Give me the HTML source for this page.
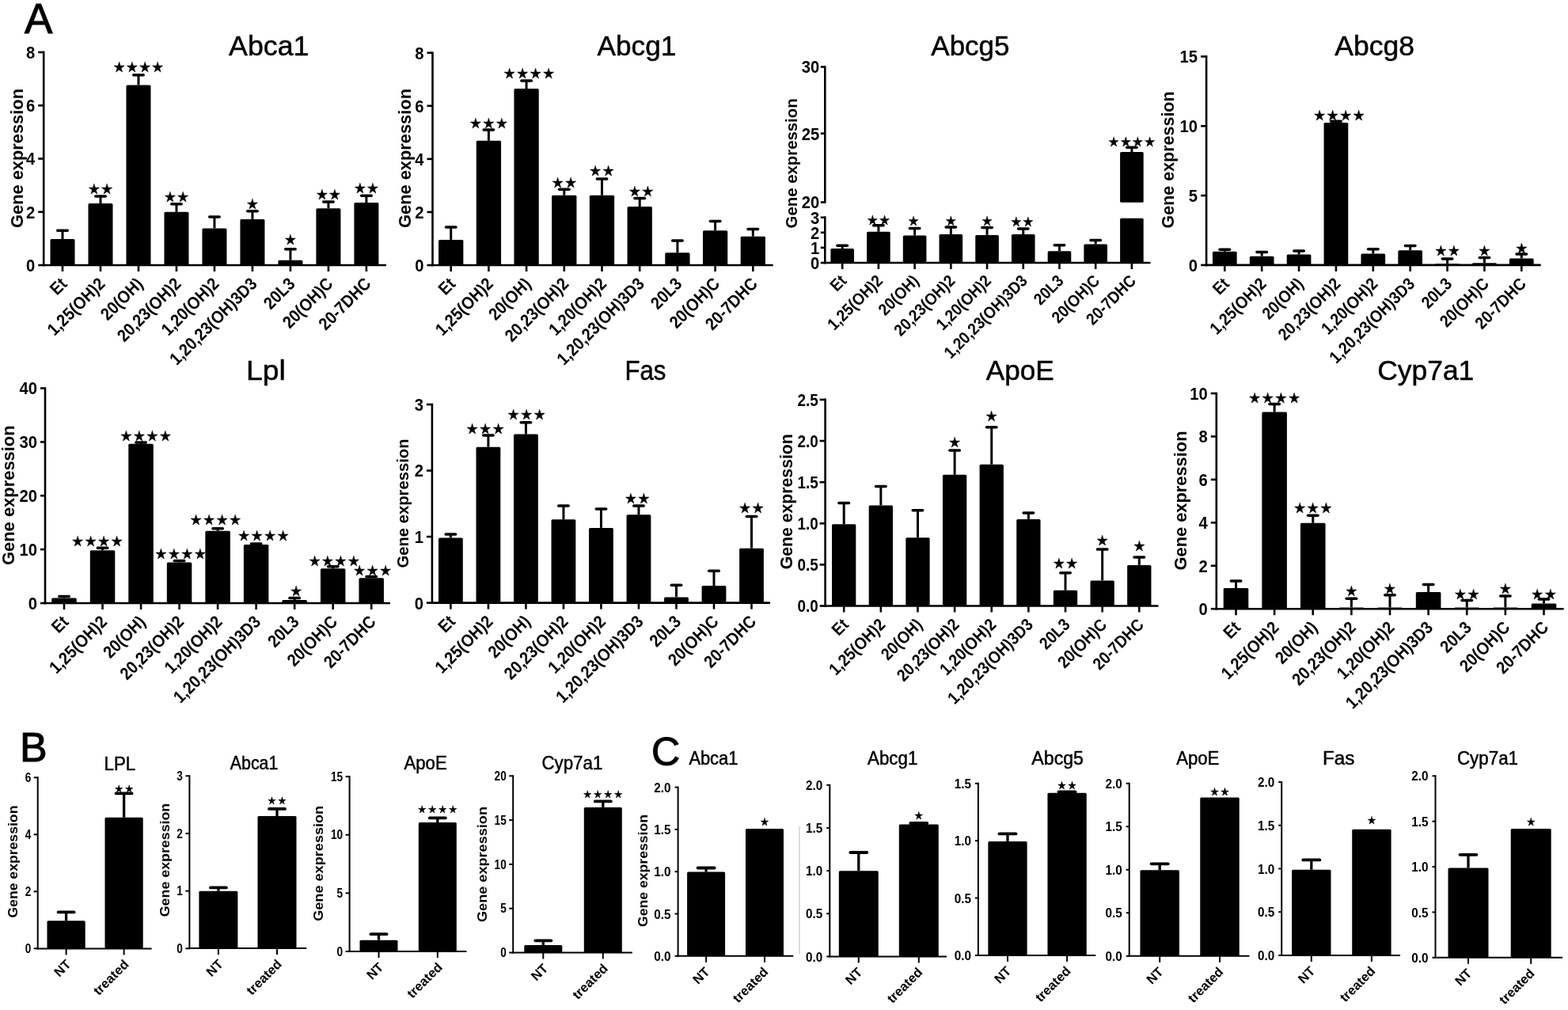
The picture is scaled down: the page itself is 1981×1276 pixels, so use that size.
<!DOCTYPE html>
<html><head><meta charset="utf-8"><style>
html,body{margin:0;padding:0;background:#fff;}
svg{display:block;}
.r{font-family:"Liberation Sans",sans-serif;stroke:#000;stroke-width:0.5px;}
.L{font-family:"Liberation Sans",sans-serif;stroke:#000;stroke-width:1.1px;}
.b{font-family:"Liberation Sans",sans-serif;font-weight:bold;}
.bn{font-family:"Liberation Sans",sans-serif;font-weight:bold;}
.s{font-family:"DejaVu Sans",sans-serif;stroke:#000;stroke-width:0.4px;stroke-linejoin:round;}
</style></head><body>
<svg width="1981" height="1276" viewBox="0 0 1981 1276">
<rect width="1981" height="1276" fill="#fff"/>
<text x="31" y="42.4" class="L" font-size="53">A</text>
<text x="25" y="961.6" class="L" font-size="52">B</text>
<text x="823" y="966.5" class="L" font-size="50">C</text>
<line x1="1010" y1="1044" x2="1010" y2="1205.5" stroke="#ddd" stroke-width="2"/>
<line x1="55.2" y1="64.7" x2="55.2" y2="336.3" stroke="#000" stroke-width="2.6"/>
<line x1="53.900000000000006" y1="335" x2="488" y2="335" stroke="#000" stroke-width="2.6"/>
<line x1="48.2" y1="335.0" x2="55.2" y2="335.0" stroke="#000" stroke-width="2.6"/>
<text x="0" y="0" transform="translate(44.20,342.92) scale(0.92,1)" text-anchor="end" class="b" font-size="22">0</text>
<line x1="48.2" y1="267.75" x2="55.2" y2="267.75" stroke="#000" stroke-width="2.6"/>
<text x="0" y="0" transform="translate(44.20,275.67) scale(0.92,1)" text-anchor="end" class="b" font-size="22">2</text>
<line x1="48.2" y1="200.5" x2="55.2" y2="200.5" stroke="#000" stroke-width="2.6"/>
<text x="0" y="0" transform="translate(44.20,208.42) scale(0.92,1)" text-anchor="end" class="b" font-size="22">4</text>
<line x1="48.2" y1="133.25" x2="55.2" y2="133.25" stroke="#000" stroke-width="2.6"/>
<text x="0" y="0" transform="translate(44.20,141.17) scale(0.92,1)" text-anchor="end" class="b" font-size="22">6</text>
<line x1="48.2" y1="66.0" x2="55.2" y2="66.0" stroke="#000" stroke-width="2.6"/>
<text x="0" y="0" transform="translate(44.20,73.92) scale(0.92,1)" text-anchor="end" class="b" font-size="22">8</text>
<line x1="79.0" y1="335" x2="79.0" y2="343" stroke="#000" stroke-width="2.6"/>
<line x1="79.0" y1="302.1" x2="79.0" y2="291.3" stroke="#000" stroke-width="3"/>
<line x1="72.75" y1="291.3" x2="85.25" y2="291.3" stroke="#000" stroke-width="3.5" stroke-linecap="round"/>
<rect x="63.5" y="302.1" width="31" height="32.89999999999998" rx="1.5"/>
<line x1="126.9875" y1="335" x2="126.9875" y2="343" stroke="#000" stroke-width="2.6"/>
<line x1="126.9875" y1="257" x2="126.9875" y2="248" stroke="#000" stroke-width="3"/>
<line x1="120.7375" y1="248" x2="133.2375" y2="248" stroke="#000" stroke-width="3.5" stroke-linecap="round"/>
<rect x="111.4875" y="257" width="31" height="78" rx="1.5"/>
<text x="111.25" y="0" transform="translate(0,238.60) scale(1,1.06) translate(0,6.10)" class="s" font-size="17.03" letter-spacing="0.93">★★</text>
<line x1="174.975" y1="335" x2="174.975" y2="343" stroke="#000" stroke-width="2.6"/>
<line x1="174.975" y1="107.4" x2="174.975" y2="94.8" stroke="#000" stroke-width="3"/>
<line x1="168.725" y1="94.8" x2="181.225" y2="94.8" stroke="#000" stroke-width="3.5" stroke-linecap="round"/>
<rect x="159.475" y="107.4" width="31" height="227.6" rx="1.5"/>
<text x="143.04" y="0" transform="translate(0,84.70) scale(1,1.06) translate(0,6.10)" class="s" font-size="17.03" letter-spacing="0.93">★★★★</text>
<line x1="222.96249999999998" y1="335" x2="222.96249999999998" y2="343" stroke="#000" stroke-width="2.6"/>
<line x1="222.96249999999998" y1="267.8" x2="222.96249999999998" y2="257.8" stroke="#000" stroke-width="3"/>
<line x1="216.71249999999998" y1="257.8" x2="229.21249999999998" y2="257.8" stroke="#000" stroke-width="3.5" stroke-linecap="round"/>
<rect x="207.46249999999998" y="267.8" width="31" height="67.19999999999999" rx="1.5"/>
<text x="207.23" y="0" transform="translate(0,248.70) scale(1,1.06) translate(0,6.10)" class="s" font-size="17.03" letter-spacing="0.93">★★</text>
<line x1="270.95" y1="335" x2="270.95" y2="343" stroke="#000" stroke-width="2.6"/>
<line x1="270.95" y1="288.4" x2="270.95" y2="274" stroke="#000" stroke-width="3"/>
<line x1="264.7" y1="274" x2="277.2" y2="274" stroke="#000" stroke-width="3.5" stroke-linecap="round"/>
<rect x="255.45" y="288.4" width="31" height="46.60000000000002" rx="1.5"/>
<line x1="318.9375" y1="335" x2="318.9375" y2="343" stroke="#000" stroke-width="2.6"/>
<line x1="318.9375" y1="276.9" x2="318.9375" y2="266.8" stroke="#000" stroke-width="3"/>
<line x1="312.6875" y1="266.8" x2="325.1875" y2="266.8" stroke="#000" stroke-width="3.5" stroke-linecap="round"/>
<rect x="303.4375" y="276.9" width="31" height="58.10000000000002" rx="1.5"/>
<text x="311.30" y="0" transform="translate(0,257.80) scale(1,1.06) translate(0,6.10)" class="s" font-size="17.03" letter-spacing="0.93">★</text>
<line x1="366.92499999999995" y1="335" x2="366.92499999999995" y2="343" stroke="#000" stroke-width="2.6"/>
<line x1="366.92499999999995" y1="328.8" x2="366.92499999999995" y2="314.7" stroke="#000" stroke-width="3"/>
<line x1="360.67499999999995" y1="314.7" x2="373.17499999999995" y2="314.7" stroke="#000" stroke-width="3.5" stroke-linecap="round"/>
<rect x="351.42499999999995" y="328.8" width="31" height="6.199999999999989" rx="1.5"/>
<text x="359.29" y="0" transform="translate(0,302.80) scale(1,1.06) translate(0,6.10)" class="s" font-size="17.03" letter-spacing="0.93">★</text>
<line x1="414.91249999999997" y1="335" x2="414.91249999999997" y2="343" stroke="#000" stroke-width="2.6"/>
<line x1="414.91249999999997" y1="263.2" x2="414.91249999999997" y2="254.9" stroke="#000" stroke-width="3"/>
<line x1="408.66249999999997" y1="254.9" x2="421.16249999999997" y2="254.9" stroke="#000" stroke-width="3.5" stroke-linecap="round"/>
<rect x="399.41249999999997" y="263.2" width="31" height="71.80000000000001" rx="1.5"/>
<text x="399.18" y="0" transform="translate(0,245.10) scale(1,1.06) translate(0,6.10)" class="s" font-size="17.03" letter-spacing="0.93">★★</text>
<line x1="462.9" y1="335" x2="462.9" y2="343" stroke="#000" stroke-width="2.6"/>
<line x1="462.9" y1="256" x2="462.9" y2="247.3" stroke="#000" stroke-width="3"/>
<line x1="456.65" y1="247.3" x2="469.15" y2="247.3" stroke="#000" stroke-width="3.5" stroke-linecap="round"/>
<rect x="447.4" y="256" width="31" height="79" rx="1.5"/>
<text x="447.17" y="0" transform="translate(0,237.20) scale(1,1.06) translate(0,6.10)" class="s" font-size="17.03" letter-spacing="0.93">★★</text>
<text x="0" y="0" transform="translate(86.00,360.00) rotate(-45) scale(0.9,1)" text-anchor="end" class="b" font-size="22">Et</text>
<text x="0" y="0" transform="translate(133.99,360.00) rotate(-45) scale(0.9,1)" text-anchor="end" class="b" font-size="22">1,25(OH)2</text>
<text x="0" y="0" transform="translate(181.97,360.00) rotate(-45) scale(0.9,1)" text-anchor="end" class="b" font-size="22">20(OH)</text>
<text x="0" y="0" transform="translate(229.96,360.00) rotate(-45) scale(0.9,1)" text-anchor="end" class="b" font-size="22">20,23(OH)2</text>
<text x="0" y="0" transform="translate(277.95,360.00) rotate(-45) scale(0.9,1)" text-anchor="end" class="b" font-size="22">1,20(OH)2</text>
<text x="0" y="0" transform="translate(325.94,360.00) rotate(-45) scale(0.9,1)" text-anchor="end" class="b" font-size="22">1,20,23(OH)3D3</text>
<text x="0" y="0" transform="translate(373.92,360.00) rotate(-45) scale(0.9,1)" text-anchor="end" class="b" font-size="22">20L3</text>
<text x="0" y="0" transform="translate(421.91,360.00) rotate(-45) scale(0.9,1)" text-anchor="end" class="b" font-size="22">20(OH)C</text>
<text x="0" y="0" transform="translate(469.90,360.00) rotate(-45) scale(0.9,1)" text-anchor="end" class="b" font-size="22">20-7DHC</text>
<text x="289.12" y="70" class="r" font-size="35" textLength="101.28" lengthAdjust="spacingAndGlyphs">Abca1</text>
<text x="0" y="0" transform="translate(29,200) rotate(-90)" text-anchor="middle" class="b" font-size="22" textLength="176" lengthAdjust="spacingAndGlyphs">Gene expression</text>
<line x1="546.5" y1="65.39999999999999" x2="546.5" y2="336.3" stroke="#000" stroke-width="2.6"/>
<line x1="545.2" y1="335" x2="976.7" y2="335" stroke="#000" stroke-width="2.6"/>
<line x1="539.5" y1="335.0" x2="546.5" y2="335.0" stroke="#000" stroke-width="2.6"/>
<text x="0" y="0" transform="translate(535.50,342.92) scale(0.92,1)" text-anchor="end" class="b" font-size="22">0</text>
<line x1="539.5" y1="267.925" x2="546.5" y2="267.925" stroke="#000" stroke-width="2.6"/>
<text x="0" y="0" transform="translate(535.50,275.85) scale(0.92,1)" text-anchor="end" class="b" font-size="22">2</text>
<line x1="539.5" y1="200.85" x2="546.5" y2="200.85" stroke="#000" stroke-width="2.6"/>
<text x="0" y="0" transform="translate(535.50,208.77) scale(0.92,1)" text-anchor="end" class="b" font-size="22">4</text>
<line x1="539.5" y1="133.77499999999998" x2="546.5" y2="133.77499999999998" stroke="#000" stroke-width="2.6"/>
<text x="0" y="0" transform="translate(535.50,141.69) scale(0.92,1)" text-anchor="end" class="b" font-size="22">6</text>
<line x1="539.5" y1="66.69999999999999" x2="546.5" y2="66.69999999999999" stroke="#000" stroke-width="2.6"/>
<text x="0" y="0" transform="translate(535.50,74.62) scale(0.92,1)" text-anchor="end" class="b" font-size="22">8</text>
<line x1="569.7" y1="335" x2="569.7" y2="343" stroke="#000" stroke-width="2.6"/>
<line x1="569.7" y1="302.9" x2="569.7" y2="287" stroke="#000" stroke-width="3"/>
<line x1="563.45" y1="287" x2="575.95" y2="287" stroke="#000" stroke-width="3.5" stroke-linecap="round"/>
<rect x="554.0500000000001" y="302.9" width="31.3" height="32.10000000000002" rx="1.5"/>
<line x1="617.4000000000001" y1="335" x2="617.4000000000001" y2="343" stroke="#000" stroke-width="2.6"/>
<line x1="617.4000000000001" y1="177.8" x2="617.4000000000001" y2="164" stroke="#000" stroke-width="3"/>
<line x1="611.1500000000001" y1="164" x2="623.6500000000001" y2="164" stroke="#000" stroke-width="3.5" stroke-linecap="round"/>
<rect x="601.7500000000001" y="177.8" width="31.3" height="157.2" rx="1.5"/>
<text x="593.27" y="0" transform="translate(0,155.10) scale(1,1.06) translate(0,6.10)" class="s" font-size="17.03" letter-spacing="1.23">★★★</text>
<line x1="665.1" y1="335" x2="665.1" y2="343" stroke="#000" stroke-width="2.6"/>
<line x1="665.1" y1="112.1" x2="665.1" y2="102.1" stroke="#000" stroke-width="3"/>
<line x1="658.85" y1="102.1" x2="671.35" y2="102.1" stroke="#000" stroke-width="3.5" stroke-linecap="round"/>
<rect x="649.45" y="112.1" width="31.3" height="222.9" rx="1.5"/>
<text x="636.12" y="0" transform="translate(0,92.40) scale(1,1.06) translate(0,6.10)" class="s" font-size="17.03" letter-spacing="1.23">★★★★</text>
<line x1="712.8" y1="335" x2="712.8" y2="343" stroke="#000" stroke-width="2.6"/>
<line x1="712.8" y1="246.7" x2="712.8" y2="239.3" stroke="#000" stroke-width="3"/>
<line x1="706.55" y1="239.3" x2="719.05" y2="239.3" stroke="#000" stroke-width="3.5" stroke-linecap="round"/>
<rect x="697.15" y="246.7" width="31.3" height="88.30000000000001" rx="1.5"/>
<text x="696.92" y="0" transform="translate(0,230.80) scale(1,1.06) translate(0,6.10)" class="s" font-size="17.03" letter-spacing="1.23">★★</text>
<line x1="760.5" y1="335" x2="760.5" y2="343" stroke="#000" stroke-width="2.6"/>
<line x1="760.5" y1="246.7" x2="760.5" y2="226" stroke="#000" stroke-width="3"/>
<line x1="754.25" y1="226" x2="766.75" y2="226" stroke="#000" stroke-width="3.5" stroke-linecap="round"/>
<rect x="744.85" y="246.7" width="31.3" height="88.30000000000001" rx="1.5"/>
<text x="744.62" y="0" transform="translate(0,216.00) scale(1,1.06) translate(0,6.10)" class="s" font-size="17.03" letter-spacing="1.23">★★</text>
<line x1="808.2" y1="335" x2="808.2" y2="343" stroke="#000" stroke-width="2.6"/>
<line x1="808.2" y1="261.1" x2="808.2" y2="250.5" stroke="#000" stroke-width="3"/>
<line x1="801.95" y1="250.5" x2="814.45" y2="250.5" stroke="#000" stroke-width="3.5" stroke-linecap="round"/>
<rect x="792.5500000000001" y="261.1" width="31.3" height="73.89999999999998" rx="1.5"/>
<text x="794.32" y="0" transform="translate(0,241.40) scale(1,1.06) translate(0,6.10)" class="s" font-size="17.03" letter-spacing="1.23">★★</text>
<line x1="855.9" y1="335" x2="855.9" y2="343" stroke="#000" stroke-width="2.6"/>
<line x1="855.9" y1="319.2" x2="855.9" y2="304" stroke="#000" stroke-width="3"/>
<line x1="849.65" y1="304" x2="862.15" y2="304" stroke="#000" stroke-width="3.5" stroke-linecap="round"/>
<rect x="840.25" y="319.2" width="31.3" height="15.800000000000011" rx="1.5"/>
<line x1="903.5999999999999" y1="335" x2="903.5999999999999" y2="343" stroke="#000" stroke-width="2.6"/>
<line x1="903.5999999999999" y1="291.2" x2="903.5999999999999" y2="279.6" stroke="#000" stroke-width="3"/>
<line x1="897.3499999999999" y1="279.6" x2="909.8499999999999" y2="279.6" stroke="#000" stroke-width="3.5" stroke-linecap="round"/>
<rect x="887.9499999999999" y="291.2" width="31.3" height="43.80000000000001" rx="1.5"/>
<line x1="951.3" y1="335" x2="951.3" y2="343" stroke="#000" stroke-width="2.6"/>
<line x1="951.3" y1="298.7" x2="951.3" y2="289.5" stroke="#000" stroke-width="3"/>
<line x1="945.05" y1="289.5" x2="957.55" y2="289.5" stroke="#000" stroke-width="3.5" stroke-linecap="round"/>
<rect x="935.65" y="298.7" width="31.3" height="36.30000000000001" rx="1.5"/>
<text x="0" y="0" transform="translate(576.70,360.00) rotate(-45) scale(0.9,1)" text-anchor="end" class="b" font-size="22">Et</text>
<text x="0" y="0" transform="translate(624.40,360.00) rotate(-45) scale(0.9,1)" text-anchor="end" class="b" font-size="22">1,25(OH)2</text>
<text x="0" y="0" transform="translate(672.10,360.00) rotate(-45) scale(0.9,1)" text-anchor="end" class="b" font-size="22">20(OH)</text>
<text x="0" y="0" transform="translate(719.80,360.00) rotate(-45) scale(0.9,1)" text-anchor="end" class="b" font-size="22">20,23(OH)2</text>
<text x="0" y="0" transform="translate(767.50,360.00) rotate(-45) scale(0.9,1)" text-anchor="end" class="b" font-size="22">1,20(OH)2</text>
<text x="0" y="0" transform="translate(815.20,360.00) rotate(-45) scale(0.9,1)" text-anchor="end" class="b" font-size="22">1,20,23(OH)3D3</text>
<text x="0" y="0" transform="translate(862.90,360.00) rotate(-45) scale(0.9,1)" text-anchor="end" class="b" font-size="22">20L3</text>
<text x="0" y="0" transform="translate(910.60,360.00) rotate(-45) scale(0.9,1)" text-anchor="end" class="b" font-size="22">20(OH)C</text>
<text x="0" y="0" transform="translate(958.30,360.00) rotate(-45) scale(0.9,1)" text-anchor="end" class="b" font-size="22">20-7DHC</text>
<text x="754.62" y="70" class="r" font-size="35" textLength="99.65" lengthAdjust="spacingAndGlyphs">Abcg1</text>
<text x="0" y="0" transform="translate(519,200) rotate(-90)" text-anchor="middle" class="b" font-size="22" textLength="176" lengthAdjust="spacingAndGlyphs">Gene expression</text>
<line x1="1042.3" y1="83.2" x2="1042.3" y2="256.8" stroke="#000" stroke-width="2.6"/>
<line x1="1042.3" y1="273.4" x2="1042.3" y2="333.3" stroke="#000" stroke-width="2.6"/>
<line x1="1041.0" y1="332" x2="1453.5" y2="332" stroke="#000" stroke-width="2.6"/>
<line x1="1036.8" y1="332" x2="1042.3" y2="332" stroke="#000" stroke-width="2.6"/>
<text x="0" y="0" transform="translate(1035.30,339.92) scale(0.92,1)" text-anchor="end" class="b" font-size="22">0</text>
<line x1="1036.8" y1="312.9" x2="1042.3" y2="312.9" stroke="#000" stroke-width="2.6"/>
<text x="0" y="0" transform="translate(1035.30,320.82) scale(0.92,1)" text-anchor="end" class="b" font-size="22">1</text>
<line x1="1036.8" y1="293.8" x2="1042.3" y2="293.8" stroke="#000" stroke-width="2.6"/>
<text x="0" y="0" transform="translate(1035.30,301.72) scale(0.92,1)" text-anchor="end" class="b" font-size="22">2</text>
<line x1="1036.8" y1="274.7" x2="1042.3" y2="274.7" stroke="#000" stroke-width="2.6"/>
<text x="0" y="0" transform="translate(1035.30,282.62) scale(0.92,1)" text-anchor="end" class="b" font-size="22">3</text>
<line x1="1036.8" y1="255.5" x2="1042.3" y2="255.5" stroke="#000" stroke-width="2.6"/>
<text x="0" y="0" transform="translate(1035.30,263.42) scale(0.92,1)" text-anchor="end" class="b" font-size="22">20</text>
<line x1="1036.8" y1="168.6" x2="1042.3" y2="168.6" stroke="#000" stroke-width="2.6"/>
<text x="0" y="0" transform="translate(1035.30,176.52) scale(0.92,1)" text-anchor="end" class="b" font-size="22">25</text>
<line x1="1036.8" y1="84.5" x2="1042.3" y2="84.5" stroke="#000" stroke-width="2.6"/>
<text x="0" y="0" transform="translate(1035.30,92.42) scale(0.92,1)" text-anchor="end" class="b" font-size="22">30</text>
<line x1="1064.2" y1="332" x2="1064.2" y2="340" stroke="#000" stroke-width="2.6"/>
<line x1="1064.2" y1="314" x2="1064.2" y2="310.2" stroke="#000" stroke-width="3"/>
<line x1="1057.95" y1="310.2" x2="1070.45" y2="310.2" stroke="#000" stroke-width="3.5" stroke-linecap="round"/>
<rect x="1049.4" y="314" width="29.6" height="18" rx="1.5"/>
<line x1="1109.9125000000001" y1="332" x2="1109.9125000000001" y2="340" stroke="#000" stroke-width="2.6"/>
<line x1="1109.9125000000001" y1="292.8" x2="1109.9125000000001" y2="284.8" stroke="#000" stroke-width="3"/>
<line x1="1103.6625000000001" y1="284.8" x2="1116.1625000000001" y2="284.8" stroke="#000" stroke-width="3.5" stroke-linecap="round"/>
<rect x="1095.1125000000002" y="292.8" width="29.6" height="39.19999999999999" rx="1.5"/>
<text x="1095.22" y="0" transform="translate(0,278.40) scale(1,1.06) translate(0,5.66)" class="s" font-size="15.81" letter-spacing="1.02">★★</text>
<line x1="1155.625" y1="332" x2="1155.625" y2="340" stroke="#000" stroke-width="2.6"/>
<line x1="1155.625" y1="297.5" x2="1155.625" y2="288.4" stroke="#000" stroke-width="3"/>
<line x1="1149.375" y1="288.4" x2="1161.875" y2="288.4" stroke="#000" stroke-width="3.5" stroke-linecap="round"/>
<rect x="1140.825" y="297.5" width="29.6" height="34.5" rx="1.5"/>
<text x="1147.04" y="0" transform="translate(0,279.50) scale(1,1.06) translate(0,5.66)" class="s" font-size="15.81" letter-spacing="1.02">★</text>
<line x1="1201.3375" y1="332" x2="1201.3375" y2="340" stroke="#000" stroke-width="2.6"/>
<line x1="1201.3375" y1="296" x2="1201.3375" y2="286.9" stroke="#000" stroke-width="3"/>
<line x1="1195.0875" y1="286.9" x2="1207.5875" y2="286.9" stroke="#000" stroke-width="3.5" stroke-linecap="round"/>
<rect x="1186.5375000000001" y="296" width="29.6" height="36" rx="1.5"/>
<text x="1194.25" y="0" transform="translate(0,279.50) scale(1,1.06) translate(0,5.66)" class="s" font-size="15.81" letter-spacing="1.02">★</text>
<line x1="1247.0500000000002" y1="332" x2="1247.0500000000002" y2="340" stroke="#000" stroke-width="2.6"/>
<line x1="1247.0500000000002" y1="296.9" x2="1247.0500000000002" y2="287.5" stroke="#000" stroke-width="3"/>
<line x1="1240.8000000000002" y1="287.5" x2="1253.3000000000002" y2="287.5" stroke="#000" stroke-width="3.5" stroke-linecap="round"/>
<rect x="1232.2500000000002" y="296.9" width="29.6" height="35.10000000000002" rx="1.5"/>
<text x="1239.96" y="0" transform="translate(0,279.50) scale(1,1.06) translate(0,5.66)" class="s" font-size="15.81" letter-spacing="1.02">★</text>
<line x1="1292.7625" y1="332" x2="1292.7625" y2="340" stroke="#000" stroke-width="2.6"/>
<line x1="1292.7625" y1="296" x2="1292.7625" y2="289" stroke="#000" stroke-width="3"/>
<line x1="1286.5125" y1="289" x2="1299.0125" y2="289" stroke="#000" stroke-width="3.5" stroke-linecap="round"/>
<rect x="1277.9625" y="296" width="29.6" height="36" rx="1.5"/>
<text x="1276.67" y="0" transform="translate(0,280.50) scale(1,1.06) translate(0,5.66)" class="s" font-size="15.81" letter-spacing="1.02">★★</text>
<line x1="1338.4750000000001" y1="332" x2="1338.4750000000001" y2="340" stroke="#000" stroke-width="2.6"/>
<line x1="1338.4750000000001" y1="317.2" x2="1338.4750000000001" y2="309.8" stroke="#000" stroke-width="3"/>
<line x1="1332.2250000000001" y1="309.8" x2="1344.7250000000001" y2="309.8" stroke="#000" stroke-width="3.5" stroke-linecap="round"/>
<rect x="1323.6750000000002" y="317.2" width="29.6" height="14.800000000000011" rx="1.5"/>
<line x1="1384.1875" y1="332" x2="1384.1875" y2="340" stroke="#000" stroke-width="2.6"/>
<line x1="1384.1875" y1="308.5" x2="1384.1875" y2="303.4" stroke="#000" stroke-width="3"/>
<line x1="1377.9375" y1="303.4" x2="1390.4375" y2="303.4" stroke="#000" stroke-width="3.5" stroke-linecap="round"/>
<rect x="1369.3875" y="308.5" width="29.6" height="23.5" rx="1.5"/>
<line x1="1429.9" y1="332" x2="1429.9" y2="340" stroke="#000" stroke-width="2.6"/>
<line x1="1429.9" y1="192.1" x2="1429.9" y2="186.2" stroke="#000" stroke-width="3"/>
<line x1="1423.65" y1="186.2" x2="1436.15" y2="186.2" stroke="#000" stroke-width="3.5" stroke-linecap="round"/>
<rect x="1415.1000000000001" y="192.1" width="29.6" height="63.599999999999994" rx="1.5"/>
<rect x="1415.1000000000001" y="275.7" width="29.6" height="56.30000000000001" rx="1.5"/>
<text x="1400.01" y="0" transform="translate(0,178.80) scale(1,1.06) translate(0,5.66)" class="s" font-size="15.81" letter-spacing="1.02">★★★★</text>
<text x="0" y="0" transform="translate(1070.70,356.00) rotate(-45) scale(0.9,1)" text-anchor="end" class="b" font-size="21">Et</text>
<text x="0" y="0" transform="translate(1116.41,356.00) rotate(-45) scale(0.9,1)" text-anchor="end" class="b" font-size="21">1,25(OH)2</text>
<text x="0" y="0" transform="translate(1162.12,356.00) rotate(-45) scale(0.9,1)" text-anchor="end" class="b" font-size="21">20(OH)</text>
<text x="0" y="0" transform="translate(1207.84,356.00) rotate(-45) scale(0.9,1)" text-anchor="end" class="b" font-size="21">20,23(OH)2</text>
<text x="0" y="0" transform="translate(1253.55,356.00) rotate(-45) scale(0.9,1)" text-anchor="end" class="b" font-size="21">1,20(OH)2</text>
<text x="0" y="0" transform="translate(1299.26,356.00) rotate(-45) scale(0.9,1)" text-anchor="end" class="b" font-size="21">1,20,23(OH)3D3</text>
<text x="0" y="0" transform="translate(1344.98,356.00) rotate(-45) scale(0.9,1)" text-anchor="end" class="b" font-size="21">20L3</text>
<text x="0" y="0" transform="translate(1390.69,356.00) rotate(-45) scale(0.9,1)" text-anchor="end" class="b" font-size="21">20(OH)C</text>
<text x="0" y="0" transform="translate(1436.40,356.00) rotate(-45) scale(0.9,1)" text-anchor="end" class="b" font-size="21">20-7DHC</text>
<text x="1176.33" y="70" class="r" font-size="35" textLength="99.09" lengthAdjust="spacingAndGlyphs">Abcg5</text>
<text x="0" y="0" transform="translate(1007,206.4) rotate(-90)" text-anchor="middle" class="b" font-size="21" textLength="164" lengthAdjust="spacingAndGlyphs">Gene expression</text>
<line x1="1524.1" y1="70.09999999999998" x2="1524.1" y2="336.2" stroke="#000" stroke-width="2.6"/>
<line x1="1522.8" y1="334.9" x2="1946.7" y2="334.9" stroke="#000" stroke-width="2.6"/>
<line x1="1517.1" y1="334.9" x2="1524.1" y2="334.9" stroke="#000" stroke-width="2.6"/>
<text x="0" y="0" transform="translate(1513.10,342.82) scale(0.92,1)" text-anchor="end" class="b" font-size="22">0</text>
<line x1="1517.1" y1="247.06666666666666" x2="1524.1" y2="247.06666666666666" stroke="#000" stroke-width="2.6"/>
<text x="0" y="0" transform="translate(1513.10,254.99) scale(0.92,1)" text-anchor="end" class="b" font-size="22">5</text>
<line x1="1517.1" y1="159.23333333333332" x2="1524.1" y2="159.23333333333332" stroke="#000" stroke-width="2.6"/>
<text x="0" y="0" transform="translate(1513.10,167.15) scale(0.92,1)" text-anchor="end" class="b" font-size="22">10</text>
<line x1="1517.1" y1="71.39999999999998" x2="1524.1" y2="71.39999999999998" stroke="#000" stroke-width="2.6"/>
<text x="0" y="0" transform="translate(1513.10,79.32) scale(0.92,1)" text-anchor="end" class="b" font-size="22">15</text>
<line x1="1547.3" y1="334.9" x2="1547.3" y2="342.9" stroke="#000" stroke-width="2.6"/>
<line x1="1547.3" y1="317.7" x2="1547.3" y2="315.2" stroke="#000" stroke-width="3"/>
<line x1="1541.05" y1="315.2" x2="1553.55" y2="315.2" stroke="#000" stroke-width="3.5" stroke-linecap="round"/>
<rect x="1531.95" y="317.7" width="30.7" height="17.19999999999999" rx="1.5"/>
<line x1="1594.175" y1="334.9" x2="1594.175" y2="342.9" stroke="#000" stroke-width="2.6"/>
<line x1="1594.175" y1="323.7" x2="1594.175" y2="318.4" stroke="#000" stroke-width="3"/>
<line x1="1587.925" y1="318.4" x2="1600.425" y2="318.4" stroke="#000" stroke-width="3.5" stroke-linecap="round"/>
<rect x="1578.825" y="323.7" width="30.7" height="11.199999999999989" rx="1.5"/>
<line x1="1641.05" y1="334.9" x2="1641.05" y2="342.9" stroke="#000" stroke-width="2.6"/>
<line x1="1641.05" y1="321.6" x2="1641.05" y2="316.9" stroke="#000" stroke-width="3"/>
<line x1="1634.8" y1="316.9" x2="1647.3" y2="316.9" stroke="#000" stroke-width="3.5" stroke-linecap="round"/>
<rect x="1625.7" y="321.6" width="30.7" height="13.299999999999955" rx="1.5"/>
<line x1="1687.925" y1="334.9" x2="1687.925" y2="342.9" stroke="#000" stroke-width="2.6"/>
<line x1="1687.925" y1="155" x2="1687.925" y2="153.2" stroke="#000" stroke-width="3"/>
<line x1="1681.675" y1="153.2" x2="1694.175" y2="153.2" stroke="#000" stroke-width="3.5" stroke-linecap="round"/>
<rect x="1672.575" y="155" width="30.7" height="179.89999999999998" rx="1.5"/>
<text x="1659.54" y="0" transform="translate(0,145.60) scale(1,1.06) translate(0,6.10)" class="s" font-size="17.03" letter-spacing="1.23">★★★★</text>
<line x1="1734.8" y1="334.9" x2="1734.8" y2="342.9" stroke="#000" stroke-width="2.6"/>
<line x1="1734.8" y1="320.5" x2="1734.8" y2="314.8" stroke="#000" stroke-width="3"/>
<line x1="1728.55" y1="314.8" x2="1741.05" y2="314.8" stroke="#000" stroke-width="3.5" stroke-linecap="round"/>
<rect x="1719.45" y="320.5" width="30.7" height="14.399999999999977" rx="1.5"/>
<line x1="1781.675" y1="334.9" x2="1781.675" y2="342.9" stroke="#000" stroke-width="2.6"/>
<line x1="1781.675" y1="316.3" x2="1781.675" y2="310.5" stroke="#000" stroke-width="3"/>
<line x1="1775.425" y1="310.5" x2="1787.925" y2="310.5" stroke="#000" stroke-width="3.5" stroke-linecap="round"/>
<rect x="1766.325" y="316.3" width="30.7" height="18.599999999999966" rx="1.5"/>
<line x1="1828.55" y1="334.9" x2="1828.55" y2="342.9" stroke="#000" stroke-width="2.6"/>
<line x1="1828.55" y1="333.2" x2="1828.55" y2="326.9" stroke="#000" stroke-width="3"/>
<line x1="1822.3" y1="326.9" x2="1834.8" y2="326.9" stroke="#000" stroke-width="3.5" stroke-linecap="round"/>
<rect x="1813.2" y="333.2" width="30.7" height="1.6999999999999886" rx="1.5"/>
<text x="1812.67" y="0" transform="translate(0,316.90) scale(1,1.06) translate(0,6.10)" class="s" font-size="17.03" letter-spacing="1.23">★★</text>
<line x1="1875.425" y1="334.9" x2="1875.425" y2="342.9" stroke="#000" stroke-width="2.6"/>
<line x1="1875.425" y1="332.2" x2="1875.425" y2="325.4" stroke="#000" stroke-width="3"/>
<line x1="1869.175" y1="325.4" x2="1881.675" y2="325.4" stroke="#000" stroke-width="3.5" stroke-linecap="round"/>
<rect x="1860.075" y="332.2" width="30.7" height="2.6999999999999886" rx="1.5"/>
<text x="1867.79" y="0" transform="translate(0,316.30) scale(1,1.06) translate(0,6.10)" class="s" font-size="17.03" letter-spacing="1.23">★</text>
<line x1="1922.3" y1="334.9" x2="1922.3" y2="342.9" stroke="#000" stroke-width="2.6"/>
<line x1="1922.3" y1="326.4" x2="1922.3" y2="321.1" stroke="#000" stroke-width="3"/>
<line x1="1916.05" y1="321.1" x2="1928.55" y2="321.1" stroke="#000" stroke-width="3.5" stroke-linecap="round"/>
<rect x="1906.95" y="326.4" width="30.7" height="8.5" rx="1.5"/>
<text x="1914.67" y="0" transform="translate(0,313.10) scale(1,1.06) translate(0,6.10)" class="s" font-size="17.03" letter-spacing="1.23">★</text>
<text x="0" y="0" transform="translate(1554.30,359.90) rotate(-45) scale(0.9,1)" text-anchor="end" class="b" font-size="21.5">Et</text>
<text x="0" y="0" transform="translate(1601.17,359.90) rotate(-45) scale(0.9,1)" text-anchor="end" class="b" font-size="21.5">1,25(OH)2</text>
<text x="0" y="0" transform="translate(1648.05,359.90) rotate(-45) scale(0.9,1)" text-anchor="end" class="b" font-size="21.5">20(OH)</text>
<text x="0" y="0" transform="translate(1694.92,359.90) rotate(-45) scale(0.9,1)" text-anchor="end" class="b" font-size="21.5">20,23(OH)2</text>
<text x="0" y="0" transform="translate(1741.80,359.90) rotate(-45) scale(0.9,1)" text-anchor="end" class="b" font-size="21.5">1,20(OH)2</text>
<text x="0" y="0" transform="translate(1788.67,359.90) rotate(-45) scale(0.9,1)" text-anchor="end" class="b" font-size="21.5">1,20,23(OH)3D3</text>
<text x="0" y="0" transform="translate(1835.55,359.90) rotate(-45) scale(0.9,1)" text-anchor="end" class="b" font-size="21.5">20L3</text>
<text x="0" y="0" transform="translate(1882.42,359.90) rotate(-45) scale(0.9,1)" text-anchor="end" class="b" font-size="21.5">20(OH)C</text>
<text x="0" y="0" transform="translate(1929.30,359.90) rotate(-45) scale(0.9,1)" text-anchor="end" class="b" font-size="21.5">20-7DHC</text>
<text x="1686.22" y="70" class="r" font-size="35" textLength="100.72" lengthAdjust="spacingAndGlyphs">Abcg8</text>
<text x="0" y="0" transform="translate(1483,201.9) rotate(-90)" text-anchor="middle" class="b" font-size="22" textLength="173" lengthAdjust="spacingAndGlyphs">Gene expression</text>
<line x1="57" y1="489.2" x2="57" y2="763.3" stroke="#000" stroke-width="2.6"/>
<line x1="55.7" y1="762" x2="493" y2="762" stroke="#000" stroke-width="2.6"/>
<line x1="51" y1="762.0" x2="57" y2="762.0" stroke="#000" stroke-width="2.6"/>
<text x="0" y="0" transform="translate(47.00,769.92) scale(0.92,1)" text-anchor="end" class="b" font-size="22">0</text>
<line x1="51" y1="694.125" x2="57" y2="694.125" stroke="#000" stroke-width="2.6"/>
<text x="0" y="0" transform="translate(47.00,702.04) scale(0.92,1)" text-anchor="end" class="b" font-size="22">10</text>
<line x1="51" y1="626.25" x2="57" y2="626.25" stroke="#000" stroke-width="2.6"/>
<text x="0" y="0" transform="translate(47.00,634.17) scale(0.92,1)" text-anchor="end" class="b" font-size="22">20</text>
<line x1="51" y1="558.375" x2="57" y2="558.375" stroke="#000" stroke-width="2.6"/>
<text x="0" y="0" transform="translate(47.00,566.29) scale(0.92,1)" text-anchor="end" class="b" font-size="22">30</text>
<line x1="51" y1="490.5" x2="57" y2="490.5" stroke="#000" stroke-width="2.6"/>
<text x="0" y="0" transform="translate(47.00,498.42) scale(0.92,1)" text-anchor="end" class="b" font-size="22">40</text>
<line x1="81.0" y1="762" x2="81.0" y2="770" stroke="#000" stroke-width="2.6"/>
<line x1="81.0" y1="755.4" x2="81.0" y2="753.6" stroke="#000" stroke-width="3"/>
<line x1="74.75" y1="753.6" x2="87.25" y2="753.6" stroke="#000" stroke-width="3.5" stroke-linecap="round"/>
<rect x="65.25" y="755.4" width="31.5" height="6.600000000000023" rx="1.5"/>
<line x1="129.525" y1="762" x2="129.525" y2="770" stroke="#000" stroke-width="2.6"/>
<line x1="129.525" y1="695.2" x2="129.525" y2="692.3" stroke="#000" stroke-width="3"/>
<line x1="123.275" y1="692.3" x2="135.775" y2="692.3" stroke="#000" stroke-width="3.5" stroke-linecap="round"/>
<rect x="113.775" y="695.2" width="31.5" height="66.79999999999995" rx="1.5"/>
<text x="90.44" y="0" transform="translate(0,683.70) scale(1,1.06) translate(0,6.10)" class="s" font-size="17.03" letter-spacing="1.23">★★★★</text>
<line x1="178.05" y1="762" x2="178.05" y2="770" stroke="#000" stroke-width="2.6"/>
<line x1="178.05" y1="560.8" x2="178.05" y2="559" stroke="#000" stroke-width="3"/>
<line x1="171.8" y1="559" x2="184.3" y2="559" stroke="#000" stroke-width="3.5" stroke-linecap="round"/>
<rect x="162.3" y="560.8" width="31.5" height="201.20000000000005" rx="1.5"/>
<text x="151.87" y="0" transform="translate(0,550.10) scale(1,1.06) translate(0,6.10)" class="s" font-size="17.03" letter-spacing="1.23">★★★★</text>
<line x1="226.575" y1="762" x2="226.575" y2="770" stroke="#000" stroke-width="2.6"/>
<line x1="226.575" y1="710.4" x2="226.575" y2="708.6" stroke="#000" stroke-width="3"/>
<line x1="220.325" y1="708.6" x2="232.825" y2="708.6" stroke="#000" stroke-width="3.5" stroke-linecap="round"/>
<rect x="210.825" y="710.4" width="31.5" height="51.60000000000002" rx="1.5"/>
<text x="195.79" y="0" transform="translate(0,699.20) scale(1,1.06) translate(0,6.10)" class="s" font-size="17.03" letter-spacing="1.23">★★★★</text>
<line x1="275.1" y1="762" x2="275.1" y2="770" stroke="#000" stroke-width="2.6"/>
<line x1="275.1" y1="670.7" x2="275.1" y2="667.8" stroke="#000" stroke-width="3"/>
<line x1="268.85" y1="667.8" x2="281.35" y2="667.8" stroke="#000" stroke-width="3.5" stroke-linecap="round"/>
<rect x="259.35" y="670.7" width="31.5" height="91.29999999999995" rx="1.5"/>
<text x="240.12" y="0" transform="translate(0,656.80) scale(1,1.06) translate(0,6.10)" class="s" font-size="17.03" letter-spacing="1.23">★★★★</text>
<line x1="323.625" y1="762" x2="323.625" y2="770" stroke="#000" stroke-width="2.6"/>
<line x1="323.625" y1="688" x2="323.625" y2="687" stroke="#000" stroke-width="3"/>
<line x1="317.375" y1="687" x2="329.875" y2="687" stroke="#000" stroke-width="3.5" stroke-linecap="round"/>
<rect x="307.875" y="688" width="31.5" height="74" rx="1.5"/>
<text x="300.54" y="0" transform="translate(0,676.30) scale(1,1.06) translate(0,6.10)" class="s" font-size="17.03" letter-spacing="1.23">★★★★</text>
<line x1="372.15" y1="762" x2="372.15" y2="770" stroke="#000" stroke-width="2.6"/>
<line x1="372.15" y1="758" x2="372.15" y2="755.4" stroke="#000" stroke-width="3"/>
<line x1="365.9" y1="755.4" x2="378.4" y2="755.4" stroke="#000" stroke-width="3.5" stroke-linecap="round"/>
<rect x="356.4" y="758" width="31.5" height="4" rx="1.5"/>
<text x="366.52" y="0" transform="translate(0,746.70) scale(1,1.06) translate(0,6.10)" class="s" font-size="17.03" letter-spacing="1.23">★</text>
<line x1="420.675" y1="762" x2="420.675" y2="770" stroke="#000" stroke-width="2.6"/>
<line x1="420.675" y1="718.3" x2="420.675" y2="715.8" stroke="#000" stroke-width="3"/>
<line x1="414.425" y1="715.8" x2="426.925" y2="715.8" stroke="#000" stroke-width="3.5" stroke-linecap="round"/>
<rect x="404.925" y="718.3" width="31.5" height="43.700000000000045" rx="1.5"/>
<text x="389.89" y="0" transform="translate(0,708.10) scale(1,1.06) translate(0,6.10)" class="s" font-size="17.03" letter-spacing="1.23">★★★★</text>
<line x1="469.2" y1="762" x2="469.2" y2="770" stroke="#000" stroke-width="2.6"/>
<line x1="469.2" y1="730.2" x2="469.2" y2="728.4" stroke="#000" stroke-width="3"/>
<line x1="462.95" y1="728.4" x2="475.45" y2="728.4" stroke="#000" stroke-width="3.5" stroke-linecap="round"/>
<rect x="453.45" y="730.2" width="31.5" height="31.799999999999955" rx="1.5"/>
<text x="446.47" y="0" transform="translate(0,720.40) scale(1,1.06) translate(0,6.10)" class="s" font-size="17.03" letter-spacing="1.23">★★★</text>
<text x="0" y="0" transform="translate(88.00,787.00) rotate(-45) scale(0.9,1)" text-anchor="end" class="b" font-size="22">Et</text>
<text x="0" y="0" transform="translate(136.53,787.00) rotate(-45) scale(0.9,1)" text-anchor="end" class="b" font-size="22">1,25(OH)2</text>
<text x="0" y="0" transform="translate(185.05,787.00) rotate(-45) scale(0.9,1)" text-anchor="end" class="b" font-size="22">20(OH)</text>
<text x="0" y="0" transform="translate(233.57,787.00) rotate(-45) scale(0.9,1)" text-anchor="end" class="b" font-size="22">20,23(OH)2</text>
<text x="0" y="0" transform="translate(282.10,787.00) rotate(-45) scale(0.9,1)" text-anchor="end" class="b" font-size="22">1,20(OH)2</text>
<text x="0" y="0" transform="translate(330.62,787.00) rotate(-45) scale(0.9,1)" text-anchor="end" class="b" font-size="22">1,20,23(OH)3D3</text>
<text x="0" y="0" transform="translate(379.15,787.00) rotate(-45) scale(0.9,1)" text-anchor="end" class="b" font-size="22">20L3</text>
<text x="0" y="0" transform="translate(427.68,787.00) rotate(-45) scale(0.9,1)" text-anchor="end" class="b" font-size="22">20(OH)C</text>
<text x="0" y="0" transform="translate(476.20,787.00) rotate(-45) scale(0.9,1)" text-anchor="end" class="b" font-size="22">20-7DHC</text>
<text x="311.12" y="480.3" class="r" font-size="35" textLength="49.78" lengthAdjust="spacingAndGlyphs">Lpl</text>
<text x="0" y="0" transform="translate(18.2,625.7) rotate(-90)" text-anchor="middle" class="b" font-size="22" textLength="176.7" lengthAdjust="spacingAndGlyphs">Gene expression</text>
<line x1="545.9" y1="509.7" x2="545.9" y2="762.9" stroke="#000" stroke-width="2.6"/>
<line x1="544.6" y1="761.6" x2="973" y2="761.6" stroke="#000" stroke-width="2.6"/>
<line x1="538.9" y1="761.6" x2="545.9" y2="761.6" stroke="#000" stroke-width="2.6"/>
<text x="0" y="0" transform="translate(534.90,769.52) scale(0.92,1)" text-anchor="end" class="b" font-size="22">0</text>
<line x1="538.9" y1="678.0666666666667" x2="545.9" y2="678.0666666666667" stroke="#000" stroke-width="2.6"/>
<text x="0" y="0" transform="translate(534.90,685.99) scale(0.92,1)" text-anchor="end" class="b" font-size="22">1</text>
<line x1="538.9" y1="594.5333333333333" x2="545.9" y2="594.5333333333333" stroke="#000" stroke-width="2.6"/>
<text x="0" y="0" transform="translate(534.90,602.45) scale(0.92,1)" text-anchor="end" class="b" font-size="22">2</text>
<line x1="538.9" y1="511.0" x2="545.9" y2="511.0" stroke="#000" stroke-width="2.6"/>
<text x="0" y="0" transform="translate(534.90,518.92) scale(0.92,1)" text-anchor="end" class="b" font-size="22">3</text>
<line x1="569.4" y1="761.6" x2="569.4" y2="769.6" stroke="#000" stroke-width="2.6"/>
<line x1="569.4" y1="679.6" x2="569.4" y2="675" stroke="#000" stroke-width="3"/>
<line x1="563.15" y1="675" x2="575.65" y2="675" stroke="#000" stroke-width="3.5" stroke-linecap="round"/>
<rect x="554.0" y="679.6" width="30.8" height="82.0" rx="1.5"/>
<line x1="616.9125" y1="761.6" x2="616.9125" y2="769.6" stroke="#000" stroke-width="2.6"/>
<line x1="616.9125" y1="564.7" x2="616.9125" y2="549.9" stroke="#000" stroke-width="3"/>
<line x1="610.6625" y1="549.9" x2="623.1625" y2="549.9" stroke="#000" stroke-width="3.5" stroke-linecap="round"/>
<rect x="601.5125" y="564.7" width="30.8" height="196.89999999999998" rx="1.5"/>
<text x="588.98" y="0" transform="translate(0,541.40) scale(1,1.06) translate(0,6.10)" class="s" font-size="17.03" letter-spacing="1.23">★★★</text>
<line x1="664.425" y1="761.6" x2="664.425" y2="769.6" stroke="#000" stroke-width="2.6"/>
<line x1="664.425" y1="548.6" x2="664.425" y2="533.7" stroke="#000" stroke-width="3"/>
<line x1="658.175" y1="533.7" x2="670.675" y2="533.7" stroke="#000" stroke-width="3.5" stroke-linecap="round"/>
<rect x="649.025" y="548.6" width="30.8" height="213.0" rx="1.5"/>
<text x="641.09" y="0" transform="translate(0,523.80) scale(1,1.06) translate(0,6.10)" class="s" font-size="17.03" letter-spacing="1.23">★★★</text>
<line x1="711.9375" y1="761.6" x2="711.9375" y2="769.6" stroke="#000" stroke-width="2.6"/>
<line x1="711.9375" y1="656.3" x2="711.9375" y2="638.9" stroke="#000" stroke-width="3"/>
<line x1="705.6875" y1="638.9" x2="718.1875" y2="638.9" stroke="#000" stroke-width="3.5" stroke-linecap="round"/>
<rect x="696.5375" y="656.3" width="30.8" height="105.30000000000007" rx="1.5"/>
<line x1="759.45" y1="761.6" x2="759.45" y2="769.6" stroke="#000" stroke-width="2.6"/>
<line x1="759.45" y1="666.9" x2="759.45" y2="642.9" stroke="#000" stroke-width="3"/>
<line x1="753.2" y1="642.9" x2="765.7" y2="642.9" stroke="#000" stroke-width="3.5" stroke-linecap="round"/>
<rect x="744.0500000000001" y="666.9" width="30.8" height="94.70000000000005" rx="1.5"/>
<line x1="806.9625" y1="761.6" x2="806.9625" y2="769.6" stroke="#000" stroke-width="2.6"/>
<line x1="806.9625" y1="650.3" x2="806.9625" y2="638.9" stroke="#000" stroke-width="3"/>
<line x1="800.7125" y1="638.9" x2="813.2125" y2="638.9" stroke="#000" stroke-width="3.5" stroke-linecap="round"/>
<rect x="791.5625" y="650.3" width="30.8" height="111.30000000000007" rx="1.5"/>
<text x="789.18" y="0" transform="translate(0,629.80) scale(1,1.06) translate(0,6.10)" class="s" font-size="17.03" letter-spacing="1.23">★★</text>
<line x1="854.475" y1="761.6" x2="854.475" y2="769.6" stroke="#000" stroke-width="2.6"/>
<line x1="854.475" y1="754.4" x2="854.475" y2="739.2" stroke="#000" stroke-width="3"/>
<line x1="848.225" y1="739.2" x2="860.725" y2="739.2" stroke="#000" stroke-width="3.5" stroke-linecap="round"/>
<rect x="839.075" y="754.4" width="30.8" height="7.2000000000000455" rx="1.5"/>
<line x1="901.9875" y1="761.6" x2="901.9875" y2="769.6" stroke="#000" stroke-width="2.6"/>
<line x1="901.9875" y1="740" x2="901.9875" y2="721.2" stroke="#000" stroke-width="3"/>
<line x1="895.7375" y1="721.2" x2="908.2375" y2="721.2" stroke="#000" stroke-width="3.5" stroke-linecap="round"/>
<rect x="886.5875" y="740" width="30.8" height="21.600000000000023" rx="1.5"/>
<line x1="949.5" y1="761.6" x2="949.5" y2="769.6" stroke="#000" stroke-width="2.6"/>
<line x1="949.5" y1="692.7" x2="949.5" y2="652.5" stroke="#000" stroke-width="3"/>
<line x1="943.25" y1="652.5" x2="955.75" y2="652.5" stroke="#000" stroke-width="3.5" stroke-linecap="round"/>
<rect x="934.1" y="692.7" width="30.8" height="68.89999999999998" rx="1.5"/>
<text x="933.62" y="0" transform="translate(0,641.90) scale(1,1.06) translate(0,6.10)" class="s" font-size="17.03" letter-spacing="1.23">★★</text>
<text x="0" y="0" transform="translate(576.40,786.60) rotate(-45) scale(0.9,1)" text-anchor="end" class="b" font-size="22">Et</text>
<text x="0" y="0" transform="translate(623.91,786.60) rotate(-45) scale(0.9,1)" text-anchor="end" class="b" font-size="22">1,25(OH)2</text>
<text x="0" y="0" transform="translate(671.42,786.60) rotate(-45) scale(0.9,1)" text-anchor="end" class="b" font-size="22">20(OH)</text>
<text x="0" y="0" transform="translate(718.94,786.60) rotate(-45) scale(0.9,1)" text-anchor="end" class="b" font-size="22">20,23(OH)2</text>
<text x="0" y="0" transform="translate(766.45,786.60) rotate(-45) scale(0.9,1)" text-anchor="end" class="b" font-size="22">1,20(OH)2</text>
<text x="0" y="0" transform="translate(813.96,786.60) rotate(-45) scale(0.9,1)" text-anchor="end" class="b" font-size="22">1,20,23(OH)3D3</text>
<text x="0" y="0" transform="translate(861.48,786.60) rotate(-45) scale(0.9,1)" text-anchor="end" class="b" font-size="22">20L3</text>
<text x="0" y="0" transform="translate(908.99,786.60) rotate(-45) scale(0.9,1)" text-anchor="end" class="b" font-size="22">20(OH)C</text>
<text x="0" y="0" transform="translate(956.50,786.60) rotate(-45) scale(0.9,1)" text-anchor="end" class="b" font-size="22">20-7DHC</text>
<text x="789.41" y="480.3" class="r" font-size="35" textLength="51.95" lengthAdjust="spacingAndGlyphs">Fas</text>
<text x="0" y="0" transform="translate(515.5,636) rotate(-90)" text-anchor="middle" class="b" font-size="21" textLength="163" lengthAdjust="spacingAndGlyphs">Gene expression</text>
<line x1="1042.6" y1="503.59999999999997" x2="1042.6" y2="766.8" stroke="#000" stroke-width="2.6"/>
<line x1="1041.3" y1="765.5" x2="1463.5" y2="765.5" stroke="#000" stroke-width="2.6"/>
<line x1="1035.6" y1="765.5" x2="1042.6" y2="765.5" stroke="#000" stroke-width="2.6"/>
<text x="0" y="0" transform="translate(1033.80,773.42) scale(0.86,1)" text-anchor="end" class="b" font-size="22">0.0</text>
<line x1="1035.6" y1="713.38" x2="1042.6" y2="713.38" stroke="#000" stroke-width="2.6"/>
<text x="0" y="0" transform="translate(1033.80,721.30) scale(0.86,1)" text-anchor="end" class="b" font-size="22">0.5</text>
<line x1="1035.6" y1="661.26" x2="1042.6" y2="661.26" stroke="#000" stroke-width="2.6"/>
<text x="0" y="0" transform="translate(1033.80,669.18) scale(0.86,1)" text-anchor="end" class="b" font-size="22">1.0</text>
<line x1="1035.6" y1="609.14" x2="1042.6" y2="609.14" stroke="#000" stroke-width="2.6"/>
<text x="0" y="0" transform="translate(1033.80,617.06) scale(0.86,1)" text-anchor="end" class="b" font-size="22">1.5</text>
<line x1="1035.6" y1="557.02" x2="1042.6" y2="557.02" stroke="#000" stroke-width="2.6"/>
<text x="0" y="0" transform="translate(1033.80,564.94) scale(0.86,1)" text-anchor="end" class="b" font-size="22">2.0</text>
<line x1="1035.6" y1="504.9" x2="1042.6" y2="504.9" stroke="#000" stroke-width="2.6"/>
<text x="0" y="0" transform="translate(1033.80,512.82) scale(0.86,1)" text-anchor="end" class="b" font-size="22">2.5</text>
<line x1="1066.2" y1="765.5" x2="1066.2" y2="773.5" stroke="#000" stroke-width="2.6"/>
<line x1="1066.2" y1="662.3" x2="1066.2" y2="635.4" stroke="#000" stroke-width="3"/>
<line x1="1059.95" y1="635.4" x2="1072.45" y2="635.4" stroke="#000" stroke-width="3.5" stroke-linecap="round"/>
<rect x="1051.05" y="662.3" width="30.3" height="103.20000000000005" rx="1.5"/>
<line x1="1112.8375" y1="765.5" x2="1112.8375" y2="773.5" stroke="#000" stroke-width="2.6"/>
<line x1="1112.8375" y1="638.4" x2="1112.8375" y2="614.6" stroke="#000" stroke-width="3"/>
<line x1="1106.5875" y1="614.6" x2="1119.0875" y2="614.6" stroke="#000" stroke-width="3.5" stroke-linecap="round"/>
<rect x="1097.6875" y="638.4" width="30.3" height="127.10000000000002" rx="1.5"/>
<line x1="1159.475" y1="765.5" x2="1159.475" y2="773.5" stroke="#000" stroke-width="2.6"/>
<line x1="1159.475" y1="679.3" x2="1159.475" y2="644.7" stroke="#000" stroke-width="3"/>
<line x1="1153.225" y1="644.7" x2="1165.725" y2="644.7" stroke="#000" stroke-width="3.5" stroke-linecap="round"/>
<rect x="1144.3249999999998" y="679.3" width="30.3" height="86.20000000000005" rx="1.5"/>
<line x1="1206.1125" y1="765.5" x2="1206.1125" y2="773.5" stroke="#000" stroke-width="2.6"/>
<line x1="1206.1125" y1="599.8" x2="1206.1125" y2="569.1" stroke="#000" stroke-width="3"/>
<line x1="1199.8625" y1="569.1" x2="1212.3625" y2="569.1" stroke="#000" stroke-width="3.5" stroke-linecap="round"/>
<rect x="1190.9624999999999" y="599.8" width="30.3" height="165.70000000000005" rx="1.5"/>
<text x="1198.48" y="0" transform="translate(0,558.50) scale(1,1.06) translate(0,6.10)" class="s" font-size="17.03" letter-spacing="1.23">★</text>
<line x1="1252.75" y1="765.5" x2="1252.75" y2="773.5" stroke="#000" stroke-width="2.6"/>
<line x1="1252.75" y1="586.7" x2="1252.75" y2="539.8" stroke="#000" stroke-width="3"/>
<line x1="1246.5" y1="539.8" x2="1259.0" y2="539.8" stroke="#000" stroke-width="3.5" stroke-linecap="round"/>
<rect x="1237.6" y="586.7" width="30.3" height="178.79999999999995" rx="1.5"/>
<text x="1245.12" y="0" transform="translate(0,525.60) scale(1,1.06) translate(0,6.10)" class="s" font-size="17.03" letter-spacing="1.23">★</text>
<line x1="1299.3875" y1="765.5" x2="1299.3875" y2="773.5" stroke="#000" stroke-width="2.6"/>
<line x1="1299.3875" y1="656" x2="1299.3875" y2="648.1" stroke="#000" stroke-width="3"/>
<line x1="1293.1375" y1="648.1" x2="1305.6375" y2="648.1" stroke="#000" stroke-width="3.5" stroke-linecap="round"/>
<rect x="1284.2375" y="656" width="30.3" height="109.5" rx="1.5"/>
<line x1="1346.025" y1="765.5" x2="1346.025" y2="773.5" stroke="#000" stroke-width="2.6"/>
<line x1="1346.025" y1="745.7" x2="1346.025" y2="723.8" stroke="#000" stroke-width="3"/>
<line x1="1339.775" y1="723.8" x2="1352.275" y2="723.8" stroke="#000" stroke-width="3.5" stroke-linecap="round"/>
<rect x="1330.875" y="745.7" width="30.3" height="19.799999999999955" rx="1.5"/>
<text x="1330.14" y="0" transform="translate(0,711.10) scale(1,1.06) translate(0,6.10)" class="s" font-size="17.03" letter-spacing="1.23">★★</text>
<line x1="1392.6625" y1="765.5" x2="1392.6625" y2="773.5" stroke="#000" stroke-width="2.6"/>
<line x1="1392.6625" y1="733.4" x2="1392.6625" y2="694.1" stroke="#000" stroke-width="3"/>
<line x1="1386.4125" y1="694.1" x2="1398.9125" y2="694.1" stroke="#000" stroke-width="3.5" stroke-linecap="round"/>
<rect x="1377.5124999999998" y="733.4" width="30.3" height="32.10000000000002" rx="1.5"/>
<text x="1385.03" y="0" transform="translate(0,682.50) scale(1,1.06) translate(0,6.10)" class="s" font-size="17.03" letter-spacing="1.23">★</text>
<line x1="1439.3" y1="765.5" x2="1439.3" y2="773.5" stroke="#000" stroke-width="2.6"/>
<line x1="1439.3" y1="713.9" x2="1439.3" y2="704.1" stroke="#000" stroke-width="3"/>
<line x1="1433.05" y1="704.1" x2="1445.55" y2="704.1" stroke="#000" stroke-width="3.5" stroke-linecap="round"/>
<rect x="1424.1499999999999" y="713.9" width="30.3" height="51.60000000000002" rx="1.5"/>
<text x="1431.67" y="0" transform="translate(0,689.90) scale(1,1.06) translate(0,6.10)" class="s" font-size="17.03" letter-spacing="1.23">★</text>
<text x="0" y="0" transform="translate(1073.20,790.50) rotate(-45) scale(0.9,1)" text-anchor="end" class="b" font-size="21.5">Et</text>
<text x="0" y="0" transform="translate(1119.84,790.50) rotate(-45) scale(0.9,1)" text-anchor="end" class="b" font-size="21.5">1,25(OH)2</text>
<text x="0" y="0" transform="translate(1166.47,790.50) rotate(-45) scale(0.9,1)" text-anchor="end" class="b" font-size="21.5">20(OH)</text>
<text x="0" y="0" transform="translate(1213.11,790.50) rotate(-45) scale(0.9,1)" text-anchor="end" class="b" font-size="21.5">20,23(OH)2</text>
<text x="0" y="0" transform="translate(1259.75,790.50) rotate(-45) scale(0.9,1)" text-anchor="end" class="b" font-size="21.5">1,20(OH)2</text>
<text x="0" y="0" transform="translate(1306.39,790.50) rotate(-45) scale(0.9,1)" text-anchor="end" class="b" font-size="21.5">1,20,23(OH)3D3</text>
<text x="0" y="0" transform="translate(1353.03,790.50) rotate(-45) scale(0.9,1)" text-anchor="end" class="b" font-size="21.5">20L3</text>
<text x="0" y="0" transform="translate(1399.66,790.50) rotate(-45) scale(0.9,1)" text-anchor="end" class="b" font-size="21.5">20(OH)C</text>
<text x="0" y="0" transform="translate(1446.30,790.50) rotate(-45) scale(0.9,1)" text-anchor="end" class="b" font-size="21.5">20-7DHC</text>
<text x="1245.82" y="480.3" class="r" font-size="35" textLength="85.93" lengthAdjust="spacingAndGlyphs">ApoE</text>
<text x="0" y="0" transform="translate(1000.5,633.7) rotate(-90)" text-anchor="middle" class="b" font-size="22" textLength="171" lengthAdjust="spacingAndGlyphs">Gene expression</text>
<line x1="1536.8" y1="495.7" x2="1536.8" y2="770.5" stroke="#000" stroke-width="2.6"/>
<line x1="1535.5" y1="769.2" x2="1975.6" y2="769.2" stroke="#000" stroke-width="2.6"/>
<line x1="1529.8" y1="769.2" x2="1536.8" y2="769.2" stroke="#000" stroke-width="2.6"/>
<text x="0" y="0" transform="translate(1525.80,777.12) scale(0.92,1)" text-anchor="end" class="b" font-size="22">0</text>
<line x1="1529.8" y1="714.76" x2="1536.8" y2="714.76" stroke="#000" stroke-width="2.6"/>
<text x="0" y="0" transform="translate(1525.80,722.68) scale(0.92,1)" text-anchor="end" class="b" font-size="22">2</text>
<line x1="1529.8" y1="660.32" x2="1536.8" y2="660.32" stroke="#000" stroke-width="2.6"/>
<text x="0" y="0" transform="translate(1525.80,668.24) scale(0.92,1)" text-anchor="end" class="b" font-size="22">4</text>
<line x1="1529.8" y1="605.88" x2="1536.8" y2="605.88" stroke="#000" stroke-width="2.6"/>
<text x="0" y="0" transform="translate(1525.80,613.80) scale(0.92,1)" text-anchor="end" class="b" font-size="22">6</text>
<line x1="1529.8" y1="551.44" x2="1536.8" y2="551.44" stroke="#000" stroke-width="2.6"/>
<text x="0" y="0" transform="translate(1525.80,559.36) scale(0.92,1)" text-anchor="end" class="b" font-size="22">8</text>
<line x1="1529.8" y1="497.0" x2="1536.8" y2="497.0" stroke="#000" stroke-width="2.6"/>
<text x="0" y="0" transform="translate(1525.80,504.92) scale(0.92,1)" text-anchor="end" class="b" font-size="22">10</text>
<line x1="1561.5" y1="769.2" x2="1561.5" y2="777.2" stroke="#000" stroke-width="2.6"/>
<line x1="1561.5" y1="743" x2="1561.5" y2="733.9" stroke="#000" stroke-width="3"/>
<line x1="1555.25" y1="733.9" x2="1567.75" y2="733.9" stroke="#000" stroke-width="3.5" stroke-linecap="round"/>
<rect x="1545.7" y="743" width="31.6" height="26.200000000000045" rx="1.5"/>
<line x1="1610.125" y1="769.2" x2="1610.125" y2="777.2" stroke="#000" stroke-width="2.6"/>
<line x1="1610.125" y1="520.6" x2="1610.125" y2="510.5" stroke="#000" stroke-width="3"/>
<line x1="1603.875" y1="510.5" x2="1616.375" y2="510.5" stroke="#000" stroke-width="3.5" stroke-linecap="round"/>
<rect x="1594.325" y="520.6" width="31.6" height="248.60000000000002" rx="1.5"/>
<text x="1577.44" y="0" transform="translate(0,502.30) scale(1,1.06) translate(0,6.10)" class="s" font-size="17.03" letter-spacing="1.43">★★★★</text>
<line x1="1658.75" y1="769.2" x2="1658.75" y2="777.2" stroke="#000" stroke-width="2.6"/>
<line x1="1658.75" y1="660.8" x2="1658.75" y2="651.2" stroke="#000" stroke-width="3"/>
<line x1="1652.5" y1="651.2" x2="1665.0" y2="651.2" stroke="#000" stroke-width="3.5" stroke-linecap="round"/>
<rect x="1642.95" y="660.8" width="31.6" height="108.40000000000009" rx="1.5"/>
<text x="1634.42" y="0" transform="translate(0,641.40) scale(1,1.06) translate(0,6.10)" class="s" font-size="17.03" letter-spacing="1.43">★★★</text>
<line x1="1707.375" y1="769.2" x2="1707.375" y2="777.2" stroke="#000" stroke-width="2.6"/>
<line x1="1707.375" y1="767.4" x2="1707.375" y2="756.2" stroke="#000" stroke-width="3"/>
<line x1="1701.125" y1="756.2" x2="1713.625" y2="756.2" stroke="#000" stroke-width="3.5" stroke-linecap="round"/>
<rect x="1691.575" y="767.4" width="31.6" height="1.8000000000000682" rx="1.5"/>
<text x="1699.74" y="0" transform="translate(0,746.40) scale(1,1.06) translate(0,6.10)" class="s" font-size="17.03" letter-spacing="1.43">★</text>
<line x1="1756.0" y1="769.2" x2="1756.0" y2="777.2" stroke="#000" stroke-width="2.6"/>
<line x1="1756.0" y1="767.4" x2="1756.0" y2="751.7" stroke="#000" stroke-width="3"/>
<line x1="1749.75" y1="751.7" x2="1762.25" y2="751.7" stroke="#000" stroke-width="3.5" stroke-linecap="round"/>
<rect x="1740.2" y="767.4" width="31.6" height="1.8000000000000682" rx="1.5"/>
<text x="1748.37" y="0" transform="translate(0,743.50) scale(1,1.06) translate(0,6.10)" class="s" font-size="17.03" letter-spacing="1.43">★</text>
<line x1="1804.625" y1="769.2" x2="1804.625" y2="777.2" stroke="#000" stroke-width="2.6"/>
<line x1="1804.625" y1="747.9" x2="1804.625" y2="738.5" stroke="#000" stroke-width="3"/>
<line x1="1798.375" y1="738.5" x2="1810.875" y2="738.5" stroke="#000" stroke-width="3.5" stroke-linecap="round"/>
<rect x="1788.825" y="747.9" width="31.6" height="21.300000000000068" rx="1.5"/>
<line x1="1853.25" y1="769.2" x2="1853.25" y2="777.2" stroke="#000" stroke-width="2.6"/>
<line x1="1853.25" y1="767.4" x2="1853.25" y2="758.6" stroke="#000" stroke-width="3"/>
<line x1="1847.0" y1="758.6" x2="1859.5" y2="758.6" stroke="#000" stroke-width="3.5" stroke-linecap="round"/>
<rect x="1837.45" y="767.4" width="31.6" height="1.8000000000000682" rx="1.5"/>
<text x="1837.27" y="0" transform="translate(0,750.20) scale(1,1.06) translate(0,6.10)" class="s" font-size="17.03" letter-spacing="1.43">★★</text>
<line x1="1901.875" y1="769.2" x2="1901.875" y2="777.2" stroke="#000" stroke-width="2.6"/>
<line x1="1901.875" y1="767.4" x2="1901.875" y2="753.1" stroke="#000" stroke-width="3"/>
<line x1="1895.625" y1="753.1" x2="1908.125" y2="753.1" stroke="#000" stroke-width="3.5" stroke-linecap="round"/>
<rect x="1886.075" y="767.4" width="31.6" height="1.8000000000000682" rx="1.5"/>
<text x="1894.24" y="0" transform="translate(0,743.50) scale(1,1.06) translate(0,6.10)" class="s" font-size="17.03" letter-spacing="1.43">★</text>
<line x1="1950.5" y1="769.2" x2="1950.5" y2="777.2" stroke="#000" stroke-width="2.6"/>
<line x1="1950.5" y1="762.4" x2="1950.5" y2="756.9" stroke="#000" stroke-width="3"/>
<line x1="1944.25" y1="756.9" x2="1956.75" y2="756.9" stroke="#000" stroke-width="3.5" stroke-linecap="round"/>
<rect x="1934.7" y="762.4" width="31.6" height="6.800000000000068" rx="1.5"/>
<text x="1934.52" y="0" transform="translate(0,750.20) scale(1,1.06) translate(0,6.10)" class="s" font-size="17.03" letter-spacing="1.43">★★</text>
<text x="0" y="0" transform="translate(1568.50,794.20) rotate(-45) scale(0.9,1)" text-anchor="end" class="b" font-size="22">Et</text>
<text x="0" y="0" transform="translate(1617.12,794.20) rotate(-45) scale(0.9,1)" text-anchor="end" class="b" font-size="22">1,25(OH)2</text>
<text x="0" y="0" transform="translate(1665.75,794.20) rotate(-45) scale(0.9,1)" text-anchor="end" class="b" font-size="22">20(OH)</text>
<text x="0" y="0" transform="translate(1714.38,794.20) rotate(-45) scale(0.9,1)" text-anchor="end" class="b" font-size="22">20,23(OH)2</text>
<text x="0" y="0" transform="translate(1763.00,794.20) rotate(-45) scale(0.9,1)" text-anchor="end" class="b" font-size="22">1,20(OH)2</text>
<text x="0" y="0" transform="translate(1811.62,794.20) rotate(-45) scale(0.9,1)" text-anchor="end" class="b" font-size="22">1,20,23(OH)3D3</text>
<text x="0" y="0" transform="translate(1860.25,794.20) rotate(-45) scale(0.9,1)" text-anchor="end" class="b" font-size="22">20L3</text>
<text x="0" y="0" transform="translate(1908.88,794.20) rotate(-45) scale(0.9,1)" text-anchor="end" class="b" font-size="22">20(OH)C</text>
<text x="0" y="0" transform="translate(1957.50,794.20) rotate(-45) scale(0.9,1)" text-anchor="end" class="b" font-size="22">20-7DHC</text>
<text x="1740.23" y="480" class="r" font-size="35" textLength="122.11" lengthAdjust="spacingAndGlyphs">Cyp7a1</text>
<text x="0" y="0" transform="translate(1499,632.5) rotate(-90)" text-anchor="middle" class="b" font-size="22" textLength="176" lengthAdjust="spacingAndGlyphs">Gene expression</text>
<line x1="47.7" y1="981.3" x2="47.7" y2="1199.4" stroke="#000" stroke-width="2"/>
<line x1="46.7" y1="1198.4" x2="191.6" y2="1198.4" stroke="#000" stroke-width="2"/>
<line x1="42.7" y1="1198.3" x2="47.7" y2="1198.3" stroke="#000" stroke-width="2"/>
<text x="0" y="0" transform="translate(39.20,1204.06) scale(0.85,1)" text-anchor="end" class="bn" font-size="16">0</text>
<line x1="42.7" y1="1126.3" x2="47.7" y2="1126.3" stroke="#000" stroke-width="2"/>
<text x="0" y="0" transform="translate(39.20,1132.06) scale(0.85,1)" text-anchor="end" class="bn" font-size="16">2</text>
<line x1="42.7" y1="1054.3" x2="47.7" y2="1054.3" stroke="#000" stroke-width="2"/>
<text x="0" y="0" transform="translate(39.20,1060.06) scale(0.85,1)" text-anchor="end" class="bn" font-size="16">4</text>
<line x1="42.7" y1="982.3" x2="47.7" y2="982.3" stroke="#000" stroke-width="2"/>
<text x="0" y="0" transform="translate(39.20,988.06) scale(0.85,1)" text-anchor="end" class="bn" font-size="16">6</text>
<line x1="83.6" y1="1198.4" x2="83.6" y2="1206.4" stroke="#000" stroke-width="2"/>
<line x1="83.6" y1="1163.3" x2="83.6" y2="1152.4" stroke="#000" stroke-width="3.3"/>
<line x1="73.6" y1="1152.4" x2="93.6" y2="1152.4" stroke="#000" stroke-width="3.8" stroke-linecap="round"/>
<rect x="59.49999999999999" y="1163.3" width="48.2" height="35.100000000000136" rx="1.5"/>
<line x1="156.6" y1="1198.4" x2="156.6" y2="1206.4" stroke="#000" stroke-width="2"/>
<line x1="156.6" y1="1032.8" x2="156.6" y2="1002.4" stroke="#000" stroke-width="3.3"/>
<line x1="146.6" y1="1002.4" x2="166.6" y2="1002.4" stroke="#000" stroke-width="3.8" stroke-linecap="round"/>
<rect x="132.5" y="1032.8" width="48.2" height="165.60000000000014" rx="1.5"/>
<text x="144.65" y="0" transform="translate(0,996.00) scale(1,1.06) translate(0,4.35)" class="s" font-size="12.16" letter-spacing="2.10">★★</text>
<text x="0" y="0" transform="translate(90.60,1219.40) rotate(-45) scale(1.0,1)" text-anchor="end" class="b" font-size="16.5">NT</text>
<text x="0" y="0" transform="translate(163.60,1219.40) rotate(-45) scale(1.0,1)" text-anchor="end" class="b" font-size="16.5">treated</text>
<text x="131.52" y="972.6" class="r" font-size="24" textLength="39.64" lengthAdjust="spacingAndGlyphs">LPL</text>
<text x="0" y="0" transform="translate(22.2,1088.6) rotate(-90)" text-anchor="middle" class="b" font-size="17" textLength="142" lengthAdjust="spacingAndGlyphs">Gene expression</text>
<line x1="239.4" y1="979.3" x2="239.4" y2="1199.1" stroke="#000" stroke-width="2"/>
<line x1="238.4" y1="1198.1" x2="387.3" y2="1198.1" stroke="#000" stroke-width="2"/>
<line x1="234.4" y1="1198.3" x2="239.4" y2="1198.3" stroke="#000" stroke-width="2"/>
<text x="0" y="0" transform="translate(230.90,1204.06) scale(0.85,1)" text-anchor="end" class="bn" font-size="16">0</text>
<line x1="234.4" y1="1125.6333333333332" x2="239.4" y2="1125.6333333333332" stroke="#000" stroke-width="2"/>
<text x="0" y="0" transform="translate(230.90,1131.39) scale(0.85,1)" text-anchor="end" class="bn" font-size="16">1</text>
<line x1="234.4" y1="1052.9666666666667" x2="239.4" y2="1052.9666666666667" stroke="#000" stroke-width="2"/>
<text x="0" y="0" transform="translate(230.90,1058.73) scale(0.85,1)" text-anchor="end" class="bn" font-size="16">2</text>
<line x1="234.4" y1="980.3" x2="239.4" y2="980.3" stroke="#000" stroke-width="2"/>
<text x="0" y="0" transform="translate(230.90,986.06) scale(0.85,1)" text-anchor="end" class="bn" font-size="16">3</text>
<line x1="275.9" y1="1198.1" x2="275.9" y2="1206.1" stroke="#000" stroke-width="2"/>
<line x1="275.9" y1="1125.7" x2="275.9" y2="1121.4" stroke="#000" stroke-width="3.3"/>
<line x1="265.9" y1="1121.4" x2="285.9" y2="1121.4" stroke="#000" stroke-width="3.8" stroke-linecap="round"/>
<rect x="251.39999999999998" y="1125.7" width="49" height="72.39999999999986" rx="1.5"/>
<line x1="350" y1="1198.1" x2="350" y2="1206.1" stroke="#000" stroke-width="2"/>
<line x1="350" y1="1031" x2="350" y2="1021.9" stroke="#000" stroke-width="3.3"/>
<line x1="340.0" y1="1021.9" x2="360.0" y2="1021.9" stroke="#000" stroke-width="3.8" stroke-linecap="round"/>
<rect x="325.5" y="1031" width="49" height="167.0999999999999" rx="1.5"/>
<text x="338.05" y="0" transform="translate(0,1011.80) scale(1,1.06) translate(0,4.35)" class="s" font-size="12.16" letter-spacing="2.10">★★</text>
<text x="0" y="0" transform="translate(282.90,1219.10) rotate(-45) scale(1.0,1)" text-anchor="end" class="b" font-size="16.5">NT</text>
<text x="0" y="0" transform="translate(357.00,1219.10) rotate(-45) scale(1.0,1)" text-anchor="end" class="b" font-size="16.5">treated</text>
<text x="290.69" y="972.4" class="r" font-size="24" textLength="60.79" lengthAdjust="spacingAndGlyphs">Abca1</text>
<text x="0" y="0" transform="translate(214,1086.5) rotate(-90)" text-anchor="middle" class="b" font-size="17" textLength="143.5" lengthAdjust="spacingAndGlyphs">Gene expression</text>
<line x1="441.6" y1="980.1" x2="441.6" y2="1203.0" stroke="#000" stroke-width="2"/>
<line x1="440.6" y1="1202" x2="589.4" y2="1202" stroke="#000" stroke-width="2"/>
<line x1="436.6" y1="1202.0" x2="441.6" y2="1202.0" stroke="#000" stroke-width="2"/>
<text x="0" y="0" transform="translate(433.10,1207.76) scale(0.85,1)" text-anchor="end" class="bn" font-size="16">0</text>
<line x1="436.6" y1="1128.3666666666668" x2="441.6" y2="1128.3666666666668" stroke="#000" stroke-width="2"/>
<text x="0" y="0" transform="translate(433.10,1134.13) scale(0.85,1)" text-anchor="end" class="bn" font-size="16">5</text>
<line x1="436.6" y1="1054.7333333333333" x2="441.6" y2="1054.7333333333333" stroke="#000" stroke-width="2"/>
<text x="0" y="0" transform="translate(433.10,1060.49) scale(0.85,1)" text-anchor="end" class="bn" font-size="16">10</text>
<line x1="436.6" y1="981.1" x2="441.6" y2="981.1" stroke="#000" stroke-width="2"/>
<text x="0" y="0" transform="translate(433.10,986.86) scale(0.85,1)" text-anchor="end" class="bn" font-size="16">15</text>
<line x1="478.5" y1="1202" x2="478.5" y2="1210" stroke="#000" stroke-width="2"/>
<line x1="478.5" y1="1187.7" x2="478.5" y2="1180.2" stroke="#000" stroke-width="3.3"/>
<line x1="468.5" y1="1180.2" x2="488.5" y2="1180.2" stroke="#000" stroke-width="3.8" stroke-linecap="round"/>
<rect x="454.5" y="1187.7" width="48" height="14.299999999999955" rx="1.5"/>
<line x1="552.8" y1="1202" x2="552.8" y2="1210" stroke="#000" stroke-width="2"/>
<line x1="552.8" y1="1039.1" x2="552.8" y2="1033.4" stroke="#000" stroke-width="3.3"/>
<line x1="542.8" y1="1033.4" x2="562.8" y2="1033.4" stroke="#000" stroke-width="3.8" stroke-linecap="round"/>
<rect x="528.8" y="1039.1" width="48" height="162.9000000000001" rx="1.5"/>
<text x="527.85" y="0" transform="translate(0,1021.90) scale(1,1.06) translate(0,4.35)" class="s" font-size="12.16" letter-spacing="2.10">★★★★</text>
<text x="0" y="0" transform="translate(485.50,1223.00) rotate(-45) scale(1.0,1)" text-anchor="end" class="b" font-size="16.5">NT</text>
<text x="0" y="0" transform="translate(559.80,1223.00) rotate(-45) scale(1.0,1)" text-anchor="end" class="b" font-size="16.5">treated</text>
<text x="510.39" y="972.4" class="r" font-size="24" textLength="54.33" lengthAdjust="spacingAndGlyphs">ApoE</text>
<text x="0" y="0" transform="translate(407.5,1090.8) rotate(-90)" text-anchor="middle" class="b" font-size="17" textLength="146" lengthAdjust="spacingAndGlyphs">Gene expression</text>
<line x1="648.2" y1="979.3" x2="648.2" y2="1204.5" stroke="#000" stroke-width="2"/>
<line x1="647.2" y1="1203.5" x2="798.8" y2="1203.5" stroke="#000" stroke-width="2"/>
<line x1="643.2" y1="1203.5" x2="648.2" y2="1203.5" stroke="#000" stroke-width="2"/>
<text x="0" y="0" transform="translate(639.70,1209.26) scale(0.85,1)" text-anchor="end" class="bn" font-size="16">0</text>
<line x1="643.2" y1="1147.7" x2="648.2" y2="1147.7" stroke="#000" stroke-width="2"/>
<text x="0" y="0" transform="translate(639.70,1153.46) scale(0.85,1)" text-anchor="end" class="bn" font-size="16">5</text>
<line x1="643.2" y1="1091.9" x2="648.2" y2="1091.9" stroke="#000" stroke-width="2"/>
<text x="0" y="0" transform="translate(639.70,1097.66) scale(0.85,1)" text-anchor="end" class="bn" font-size="16">10</text>
<line x1="643.2" y1="1036.1" x2="648.2" y2="1036.1" stroke="#000" stroke-width="2"/>
<text x="0" y="0" transform="translate(639.70,1041.86) scale(0.85,1)" text-anchor="end" class="bn" font-size="16">15</text>
<line x1="643.2" y1="980.3" x2="648.2" y2="980.3" stroke="#000" stroke-width="2"/>
<text x="0" y="0" transform="translate(639.70,986.06) scale(0.85,1)" text-anchor="end" class="bn" font-size="16">20</text>
<line x1="686.3" y1="1203.5" x2="686.3" y2="1211.5" stroke="#000" stroke-width="2"/>
<line x1="686.3" y1="1194" x2="686.3" y2="1188.3" stroke="#000" stroke-width="3.3"/>
<line x1="676.3" y1="1188.3" x2="696.3" y2="1188.3" stroke="#000" stroke-width="3.8" stroke-linecap="round"/>
<rect x="662.3" y="1194" width="48" height="9.5" rx="1.5"/>
<line x1="761.8" y1="1203.5" x2="761.8" y2="1211.5" stroke="#000" stroke-width="2"/>
<line x1="761.8" y1="1019.9" x2="761.8" y2="1012.4" stroke="#000" stroke-width="3.3"/>
<line x1="751.8" y1="1012.4" x2="771.8" y2="1012.4" stroke="#000" stroke-width="3.8" stroke-linecap="round"/>
<rect x="737.8" y="1019.9" width="48" height="183.60000000000002" rx="1.5"/>
<text x="736.85" y="0" transform="translate(0,1003.20) scale(1,1.06) translate(0,4.35)" class="s" font-size="12.16" letter-spacing="2.10">★★★★</text>
<text x="0" y="0" transform="translate(693.30,1224.50) rotate(-45) scale(1.0,1)" text-anchor="end" class="b" font-size="16.5">NT</text>
<text x="0" y="0" transform="translate(768.80,1224.50) rotate(-45) scale(1.0,1)" text-anchor="end" class="b" font-size="16.5">treated</text>
<text x="684.38" y="972.4" class="r" font-size="24" textLength="76.98" lengthAdjust="spacingAndGlyphs">Cyp7a1</text>
<text x="0" y="0" transform="translate(615,1092) rotate(-90)" text-anchor="middle" class="b" font-size="17" textLength="146" lengthAdjust="spacingAndGlyphs">Gene expression</text>
<line x1="856.6" y1="993.6" x2="856.6" y2="1208.8" stroke="#000" stroke-width="2"/>
<line x1="855.6" y1="1207.8" x2="1002.3" y2="1207.8" stroke="#000" stroke-width="2"/>
<line x1="852.6" y1="1207.8" x2="856.6" y2="1207.8" stroke="#000" stroke-width="2"/>
<text x="0" y="0" transform="translate(847.60,1213.92) scale(0.9,1)" text-anchor="end" class="bn" font-size="17">0.0</text>
<line x1="852.6" y1="1154.5" x2="856.6" y2="1154.5" stroke="#000" stroke-width="2"/>
<text x="0" y="0" transform="translate(847.60,1160.62) scale(0.9,1)" text-anchor="end" class="bn" font-size="17">0.5</text>
<line x1="852.6" y1="1101.2" x2="856.6" y2="1101.2" stroke="#000" stroke-width="2"/>
<text x="0" y="0" transform="translate(847.60,1107.32) scale(0.9,1)" text-anchor="end" class="bn" font-size="17">1.0</text>
<line x1="852.6" y1="1047.9" x2="856.6" y2="1047.9" stroke="#000" stroke-width="2"/>
<text x="0" y="0" transform="translate(847.60,1054.02) scale(0.9,1)" text-anchor="end" class="bn" font-size="17">1.5</text>
<line x1="852.6" y1="994.6" x2="856.6" y2="994.6" stroke="#000" stroke-width="2"/>
<text x="0" y="0" transform="translate(847.60,1000.72) scale(0.9,1)" text-anchor="end" class="bn" font-size="17">2.0</text>
<line x1="892.1" y1="1207.8" x2="892.1" y2="1215.8" stroke="#000" stroke-width="2"/>
<line x1="892.1" y1="1101.6" x2="892.1" y2="1096.5" stroke="#000" stroke-width="3.3"/>
<line x1="881.6" y1="1096.5" x2="902.6" y2="1096.5" stroke="#000" stroke-width="3.8" stroke-linecap="round"/>
<rect x="868.1" y="1101.6" width="48" height="106.20000000000005" rx="1.5"/>
<line x1="966" y1="1207.8" x2="966" y2="1215.8" stroke="#000" stroke-width="2"/>
<rect x="942.0" y="1047.1" width="48" height="160.70000000000005" rx="1.5"/>
<text x="960.24" y="0" transform="translate(0,1037.70) scale(1,1.06) translate(0,4.60)" class="s" font-size="12.84" letter-spacing="1.49">★</text>
<text x="0" y="0" transform="translate(897.60,1228.80) rotate(-45) scale(1.0,1)" text-anchor="end" class="b" font-size="16.5">NT</text>
<text x="0" y="0" transform="translate(971.50,1228.80) rotate(-45) scale(1.0,1)" text-anchor="end" class="b" font-size="16.5">treated</text>
<text x="870.39" y="965.5" class="r" font-size="23" textLength="62.01" lengthAdjust="spacingAndGlyphs">Abca1</text>
<text x="0" y="0" transform="translate(818,1100) rotate(-90)" text-anchor="middle" class="b" font-size="17" textLength="142" lengthAdjust="spacingAndGlyphs">Gene expression</text>
<line x1="1048.3" y1="990.8" x2="1048.3" y2="1209.4" stroke="#000" stroke-width="2"/>
<line x1="1047.3" y1="1208.4" x2="1196" y2="1208.4" stroke="#000" stroke-width="2"/>
<line x1="1044.3" y1="1208.4" x2="1048.3" y2="1208.4" stroke="#000" stroke-width="2"/>
<text x="0" y="0" transform="translate(1039.30,1214.52) scale(0.9,1)" text-anchor="end" class="bn" font-size="17">0.0</text>
<line x1="1044.3" y1="1154.25" x2="1048.3" y2="1154.25" stroke="#000" stroke-width="2"/>
<text x="0" y="0" transform="translate(1039.30,1160.37) scale(0.9,1)" text-anchor="end" class="bn" font-size="17">0.5</text>
<line x1="1044.3" y1="1100.1" x2="1048.3" y2="1100.1" stroke="#000" stroke-width="2"/>
<text x="0" y="0" transform="translate(1039.30,1106.22) scale(0.9,1)" text-anchor="end" class="bn" font-size="17">1.0</text>
<line x1="1044.3" y1="1045.95" x2="1048.3" y2="1045.95" stroke="#000" stroke-width="2"/>
<text x="0" y="0" transform="translate(1039.30,1052.07) scale(0.9,1)" text-anchor="end" class="bn" font-size="17">1.5</text>
<line x1="1044.3" y1="991.8" x2="1048.3" y2="991.8" stroke="#000" stroke-width="2"/>
<text x="0" y="0" transform="translate(1039.30,997.92) scale(0.9,1)" text-anchor="end" class="bn" font-size="17">2.0</text>
<line x1="1084.8" y1="1208.4" x2="1084.8" y2="1216.4" stroke="#000" stroke-width="2"/>
<line x1="1084.8" y1="1100.2" x2="1084.8" y2="1077" stroke="#000" stroke-width="3.3"/>
<line x1="1074.3" y1="1077" x2="1095.3" y2="1077" stroke="#000" stroke-width="3.8" stroke-linecap="round"/>
<rect x="1059.8" y="1100.2" width="50" height="108.20000000000005" rx="1.5"/>
<line x1="1160.8" y1="1208.4" x2="1160.8" y2="1216.4" stroke="#000" stroke-width="2"/>
<line x1="1160.8" y1="1041.4" x2="1160.8" y2="1040" stroke="#000" stroke-width="3.3"/>
<line x1="1150.3" y1="1040" x2="1171.3" y2="1040" stroke="#000" stroke-width="3.8" stroke-linecap="round"/>
<rect x="1135.8" y="1041.4" width="50" height="167.0" rx="1.5"/>
<text x="1155.04" y="0" transform="translate(0,1030.50) scale(1,1.06) translate(0,4.60)" class="s" font-size="12.84" letter-spacing="1.49">★</text>
<text x="0" y="0" transform="translate(1090.30,1229.40) rotate(-45) scale(1.0,1)" text-anchor="end" class="b" font-size="16.5">NT</text>
<text x="0" y="0" transform="translate(1166.30,1229.40) rotate(-45) scale(1.0,1)" text-anchor="end" class="b" font-size="16.5">treated</text>
<text x="1096.09" y="965.5" class="r" font-size="23" textLength="63.24" lengthAdjust="spacingAndGlyphs">Abcg1</text>
<line x1="1235.9" y1="988.8" x2="1235.9" y2="1207.9" stroke="#000" stroke-width="2"/>
<line x1="1234.9" y1="1206.9" x2="1384.3" y2="1206.9" stroke="#000" stroke-width="2"/>
<line x1="1231.9" y1="1206.9" x2="1235.9" y2="1206.9" stroke="#000" stroke-width="2"/>
<text x="0" y="0" transform="translate(1226.90,1213.02) scale(0.9,1)" text-anchor="end" class="bn" font-size="17">0.0</text>
<line x1="1231.9" y1="1134.5333333333333" x2="1235.9" y2="1134.5333333333333" stroke="#000" stroke-width="2"/>
<text x="0" y="0" transform="translate(1226.90,1140.65) scale(0.9,1)" text-anchor="end" class="bn" font-size="17">0.5</text>
<line x1="1231.9" y1="1062.1666666666667" x2="1235.9" y2="1062.1666666666667" stroke="#000" stroke-width="2"/>
<text x="0" y="0" transform="translate(1226.90,1068.29) scale(0.9,1)" text-anchor="end" class="bn" font-size="17">1.0</text>
<line x1="1231.9" y1="989.8" x2="1235.9" y2="989.8" stroke="#000" stroke-width="2"/>
<text x="0" y="0" transform="translate(1226.90,995.92) scale(0.9,1)" text-anchor="end" class="bn" font-size="17">1.5</text>
<line x1="1273" y1="1206.9" x2="1273" y2="1214.9" stroke="#000" stroke-width="2"/>
<line x1="1273" y1="1062.9" x2="1273" y2="1053.4" stroke="#000" stroke-width="3.3"/>
<line x1="1262.5" y1="1053.4" x2="1283.5" y2="1053.4" stroke="#000" stroke-width="3.8" stroke-linecap="round"/>
<rect x="1248.35" y="1062.9" width="49.3" height="144.0" rx="1.5"/>
<line x1="1348.1" y1="1206.9" x2="1348.1" y2="1214.9" stroke="#000" stroke-width="2"/>
<line x1="1348.1" y1="1001.8" x2="1348.1" y2="1000.4" stroke="#000" stroke-width="3.3"/>
<line x1="1337.6" y1="1000.4" x2="1358.6" y2="1000.4" stroke="#000" stroke-width="3.8" stroke-linecap="round"/>
<rect x="1323.4499999999998" y="1001.8" width="49.3" height="205.10000000000014" rx="1.5"/>
<text x="1335.84" y="0" transform="translate(0,991.80) scale(1,1.06) translate(0,4.60)" class="s" font-size="12.84" letter-spacing="1.49">★★</text>
<text x="0" y="0" transform="translate(1278.50,1227.90) rotate(-45) scale(1.0,1)" text-anchor="end" class="b" font-size="16.5">NT</text>
<text x="0" y="0" transform="translate(1353.60,1227.90) rotate(-45) scale(1.0,1)" text-anchor="end" class="b" font-size="16.5">treated</text>
<text x="1303.28" y="965.5" class="r" font-size="23" textLength="65.76" lengthAdjust="spacingAndGlyphs">Abcg5</text>
<line x1="1426.7" y1="988.8" x2="1426.7" y2="1208.8" stroke="#000" stroke-width="2"/>
<line x1="1425.7" y1="1207.8" x2="1578.5" y2="1207.8" stroke="#000" stroke-width="2"/>
<line x1="1422.7" y1="1207.8" x2="1426.7" y2="1207.8" stroke="#000" stroke-width="2"/>
<text x="0" y="0" transform="translate(1417.70,1213.92) scale(0.9,1)" text-anchor="end" class="bn" font-size="17">0.0</text>
<line x1="1422.7" y1="1153.3" x2="1426.7" y2="1153.3" stroke="#000" stroke-width="2"/>
<text x="0" y="0" transform="translate(1417.70,1159.42) scale(0.9,1)" text-anchor="end" class="bn" font-size="17">0.5</text>
<line x1="1422.7" y1="1098.8" x2="1426.7" y2="1098.8" stroke="#000" stroke-width="2"/>
<text x="0" y="0" transform="translate(1417.70,1104.92) scale(0.9,1)" text-anchor="end" class="bn" font-size="17">1.0</text>
<line x1="1422.7" y1="1044.3" x2="1426.7" y2="1044.3" stroke="#000" stroke-width="2"/>
<text x="0" y="0" transform="translate(1417.70,1050.42) scale(0.9,1)" text-anchor="end" class="bn" font-size="17">1.5</text>
<line x1="1422.7" y1="989.8" x2="1426.7" y2="989.8" stroke="#000" stroke-width="2"/>
<text x="0" y="0" transform="translate(1417.70,995.92) scale(0.9,1)" text-anchor="end" class="bn" font-size="17">2.0</text>
<line x1="1465.2" y1="1207.8" x2="1465.2" y2="1215.8" stroke="#000" stroke-width="2"/>
<line x1="1465.2" y1="1099.3" x2="1465.2" y2="1091.3" stroke="#000" stroke-width="3.3"/>
<line x1="1454.7" y1="1091.3" x2="1475.7" y2="1091.3" stroke="#000" stroke-width="3.8" stroke-linecap="round"/>
<rect x="1440.45" y="1099.3" width="49.5" height="108.5" rx="1.5"/>
<line x1="1541" y1="1207.8" x2="1541" y2="1215.8" stroke="#000" stroke-width="2"/>
<rect x="1516.25" y="1007.5" width="49.5" height="200.29999999999995" rx="1.5"/>
<text x="1528.74" y="0" transform="translate(0,1000.40) scale(1,1.06) translate(0,4.60)" class="s" font-size="12.84" letter-spacing="1.49">★★</text>
<text x="0" y="0" transform="translate(1470.70,1228.80) rotate(-45) scale(1.0,1)" text-anchor="end" class="b" font-size="16.5">NT</text>
<text x="0" y="0" transform="translate(1546.50,1228.80) rotate(-45) scale(1.0,1)" text-anchor="end" class="b" font-size="16.5">treated</text>
<text x="1486.29" y="965.5" class="r" font-size="23" textLength="54.02" lengthAdjust="spacingAndGlyphs">ApoE</text>
<line x1="1619.2" y1="987.0" x2="1619.2" y2="1207.9" stroke="#000" stroke-width="2"/>
<line x1="1618.2" y1="1206.9" x2="1769" y2="1206.9" stroke="#000" stroke-width="2"/>
<line x1="1615.2" y1="1206.9" x2="1619.2" y2="1206.9" stroke="#000" stroke-width="2"/>
<text x="0" y="0" transform="translate(1610.20,1213.02) scale(0.9,1)" text-anchor="end" class="bn" font-size="17">0.0</text>
<line x1="1615.2" y1="1152.1750000000002" x2="1619.2" y2="1152.1750000000002" stroke="#000" stroke-width="2"/>
<text x="0" y="0" transform="translate(1610.20,1158.30) scale(0.9,1)" text-anchor="end" class="bn" font-size="17">0.5</text>
<line x1="1615.2" y1="1097.45" x2="1619.2" y2="1097.45" stroke="#000" stroke-width="2"/>
<text x="0" y="0" transform="translate(1610.20,1103.57) scale(0.9,1)" text-anchor="end" class="bn" font-size="17">1.0</text>
<line x1="1615.2" y1="1042.725" x2="1619.2" y2="1042.725" stroke="#000" stroke-width="2"/>
<text x="0" y="0" transform="translate(1610.20,1048.84) scale(0.9,1)" text-anchor="end" class="bn" font-size="17">1.5</text>
<line x1="1615.2" y1="988.0" x2="1619.2" y2="988.0" stroke="#000" stroke-width="2"/>
<text x="0" y="0" transform="translate(1610.20,994.12) scale(0.9,1)" text-anchor="end" class="bn" font-size="17">2.0</text>
<line x1="1656.8" y1="1206.9" x2="1656.8" y2="1214.9" stroke="#000" stroke-width="2"/>
<line x1="1656.8" y1="1098.8" x2="1656.8" y2="1086.4" stroke="#000" stroke-width="3.3"/>
<line x1="1646.3" y1="1086.4" x2="1667.3" y2="1086.4" stroke="#000" stroke-width="3.8" stroke-linecap="round"/>
<rect x="1632.1" y="1098.8" width="49.4" height="108.10000000000014" rx="1.5"/>
<line x1="1732.9" y1="1206.9" x2="1732.9" y2="1214.9" stroke="#000" stroke-width="2"/>
<rect x="1708.2" y="1047.7" width="49.4" height="159.20000000000005" rx="1.5"/>
<text x="1727.14" y="0" transform="translate(0,1036.20) scale(1,1.06) translate(0,4.60)" class="s" font-size="12.84" letter-spacing="1.49">★</text>
<text x="0" y="0" transform="translate(1662.30,1227.90) rotate(-45) scale(1.0,1)" text-anchor="end" class="b" font-size="16.5">NT</text>
<text x="0" y="0" transform="translate(1738.40,1227.90) rotate(-45) scale(1.0,1)" text-anchor="end" class="b" font-size="16.5">treated</text>
<text x="1670.96" y="965.5" class="r" font-size="23" textLength="40.33" lengthAdjust="spacingAndGlyphs">Fas</text>
<line x1="1813.5" y1="979.3" x2="1813.5" y2="1210.8" stroke="#000" stroke-width="2"/>
<line x1="1812.5" y1="1209.8" x2="1974.1" y2="1209.8" stroke="#000" stroke-width="2"/>
<line x1="1809.5" y1="1209.8" x2="1813.5" y2="1209.8" stroke="#000" stroke-width="2"/>
<text x="0" y="0" transform="translate(1804.50,1215.92) scale(0.9,1)" text-anchor="end" class="bn" font-size="17">0.0</text>
<line x1="1809.5" y1="1152.425" x2="1813.5" y2="1152.425" stroke="#000" stroke-width="2"/>
<text x="0" y="0" transform="translate(1804.50,1158.54) scale(0.9,1)" text-anchor="end" class="bn" font-size="17">0.5</text>
<line x1="1809.5" y1="1095.05" x2="1813.5" y2="1095.05" stroke="#000" stroke-width="2"/>
<text x="0" y="0" transform="translate(1804.50,1101.17) scale(0.9,1)" text-anchor="end" class="bn" font-size="17">1.0</text>
<line x1="1809.5" y1="1037.675" x2="1813.5" y2="1037.675" stroke="#000" stroke-width="2"/>
<text x="0" y="0" transform="translate(1804.50,1043.79) scale(0.9,1)" text-anchor="end" class="bn" font-size="17">1.5</text>
<line x1="1809.5" y1="980.3" x2="1813.5" y2="980.3" stroke="#000" stroke-width="2"/>
<text x="0" y="0" transform="translate(1804.50,986.42) scale(0.9,1)" text-anchor="end" class="bn" font-size="17">2.0</text>
<line x1="1855" y1="1209.8" x2="1855" y2="1217.8" stroke="#000" stroke-width="2"/>
<line x1="1855" y1="1096.5" x2="1855" y2="1079.8" stroke="#000" stroke-width="3.3"/>
<line x1="1844.5" y1="1079.8" x2="1865.5" y2="1079.8" stroke="#000" stroke-width="3.8" stroke-linecap="round"/>
<rect x="1829.5" y="1096.5" width="51" height="113.29999999999995" rx="1.5"/>
<line x1="1934.2" y1="1209.8" x2="1934.2" y2="1217.8" stroke="#000" stroke-width="2"/>
<rect x="1908.7" y="1047.1" width="51" height="162.70000000000005" rx="1.5"/>
<text x="1928.44" y="0" transform="translate(0,1038.50) scale(1,1.06) translate(0,4.60)" class="s" font-size="12.84" letter-spacing="1.49">★</text>
<text x="0" y="0" transform="translate(1860.50,1230.80) rotate(-45) scale(1.0,1)" text-anchor="end" class="b" font-size="16.5">NT</text>
<text x="0" y="0" transform="translate(1939.70,1230.80) rotate(-45) scale(1.0,1)" text-anchor="end" class="b" font-size="16.5">treated</text>
<text x="1840.98" y="965.5" class="r" font-size="23" textLength="77.08" lengthAdjust="spacingAndGlyphs">Cyp7a1</text>
</svg>
</body></html>
